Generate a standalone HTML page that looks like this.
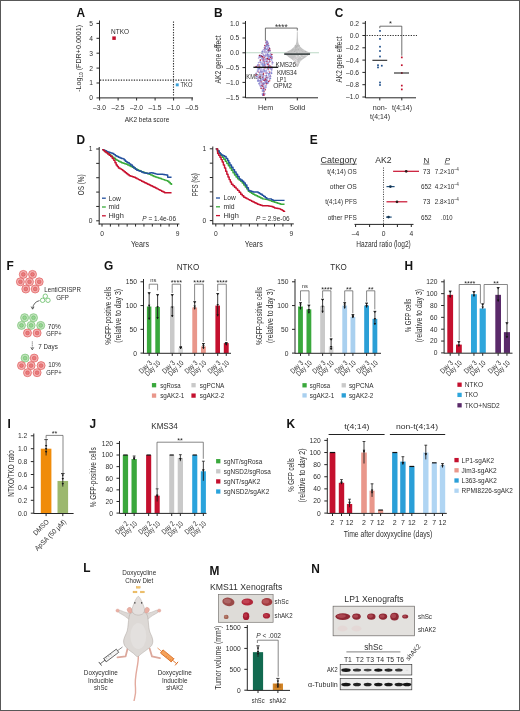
<!DOCTYPE html>
<html><head><meta charset="utf-8"><style>
html,body{margin:0;padding:0;background:#fff;overflow:hidden;}
svg{display:block;filter:blur(0.3px);}
text{font-family:"Liberation Sans", sans-serif;}
</style></head><body>
<svg width="520" height="711" viewBox="0 0 520 711" font-family="Liberation Sans, sans-serif">
<rect width="520" height="711" fill="#fff"/>
<text x="76.50" y="17.20" font-size="11.9" text-anchor="start" fill="#141414" font-weight="bold">A</text>
<line x1="99.50" y1="20.50" x2="99.50" y2="98.40" stroke="#262626" stroke-width="1.0"/>
<line x1="96.50" y1="97.90" x2="99.50" y2="97.90" stroke="#262626" stroke-width="1.0"/>
<text x="92.90" y="100.31" font-size="6.7" text-anchor="end" fill="#2e2e2e">0</text>
<line x1="96.50" y1="83.00" x2="99.50" y2="83.00" stroke="#262626" stroke-width="1.0"/>
<text x="92.90" y="85.41" font-size="6.7" text-anchor="end" fill="#2e2e2e">1</text>
<line x1="96.50" y1="68.10" x2="99.50" y2="68.10" stroke="#262626" stroke-width="1.0"/>
<text x="92.90" y="70.51" font-size="6.7" text-anchor="end" fill="#2e2e2e">2</text>
<line x1="96.50" y1="53.20" x2="99.50" y2="53.20" stroke="#262626" stroke-width="1.0"/>
<text x="92.90" y="55.61" font-size="6.7" text-anchor="end" fill="#2e2e2e">3</text>
<line x1="96.50" y1="38.30" x2="99.50" y2="38.30" stroke="#262626" stroke-width="1.0"/>
<text x="92.90" y="40.71" font-size="6.7" text-anchor="end" fill="#2e2e2e">4</text>
<line x1="96.50" y1="23.40" x2="99.50" y2="23.40" stroke="#262626" stroke-width="1.0"/>
<text x="92.90" y="25.81" font-size="6.7" text-anchor="end" fill="#2e2e2e">5</text>
<line x1="99.00" y1="97.90" x2="193.00" y2="97.90" stroke="#262626" stroke-width="1.0"/>
<line x1="99.60" y1="97.90" x2="99.60" y2="100.50" stroke="#262626" stroke-width="1.0"/>
<text x="99.60" y="110.00" font-size="6.7" text-anchor="middle" fill="#2e2e2e">–3.0</text>
<line x1="118.10" y1="97.90" x2="118.10" y2="100.50" stroke="#262626" stroke-width="1.0"/>
<text x="118.10" y="110.00" font-size="6.7" text-anchor="middle" fill="#2e2e2e">–2.5</text>
<line x1="136.60" y1="97.90" x2="136.60" y2="100.50" stroke="#262626" stroke-width="1.0"/>
<text x="136.60" y="110.00" font-size="6.7" text-anchor="middle" fill="#2e2e2e">–2.0</text>
<line x1="155.10" y1="97.90" x2="155.10" y2="100.50" stroke="#262626" stroke-width="1.0"/>
<text x="155.10" y="110.00" font-size="6.7" text-anchor="middle" fill="#2e2e2e">–1.5</text>
<line x1="173.60" y1="97.90" x2="173.60" y2="100.50" stroke="#262626" stroke-width="1.0"/>
<text x="173.60" y="110.00" font-size="6.7" text-anchor="middle" fill="#2e2e2e">–1.0</text>
<line x1="192.10" y1="97.90" x2="192.10" y2="100.50" stroke="#262626" stroke-width="1.0"/>
<text x="192.10" y="110.00" font-size="6.7" text-anchor="middle" fill="#2e2e2e">–0.5</text>
<text x="147.00" y="121.50" font-size="7.9" text-anchor="middle" fill="#2e2e2e" textLength="44.5" lengthAdjust="spacingAndGlyphs">AK2 beta score</text>
<text x="81.40" y="58.30" font-size="7.9" text-anchor="middle" fill="#2e2e2e" textLength="67" lengthAdjust="spacingAndGlyphs" transform="rotate(-90 81.40 58.30)">-Log<tspan font-size="5.2" dy="1.6">10</tspan><tspan dy="-1.6"> (FDR+0.0001)</tspan></text>
<line x1="173.50" y1="21.50" x2="173.50" y2="97.50" stroke="#333" stroke-width="1.1" stroke-dasharray="1.3,1.3"/>
<line x1="100.00" y1="80.10" x2="193.00" y2="80.10" stroke="#333" stroke-width="1.1" stroke-dasharray="1.3,1.3"/>
<rect x="112.30" y="36.40" width="3.50" height="3.50" fill="#c0102c"/>
<text x="111.00" y="34.30" font-size="6.7" text-anchor="start" fill="#2e2e2e" textLength="18" lengthAdjust="spacingAndGlyphs">NTKO</text>
<rect x="175.80" y="83.40" width="2.90" height="2.90" fill="#3aa0d8"/>
<text x="180.60" y="87.30" font-size="6.7" text-anchor="start" fill="#2e2e2e" textLength="11.8" lengthAdjust="spacingAndGlyphs">TKO</text>
<text x="214.00" y="17.20" font-size="11.9" text-anchor="start" fill="#141414" font-weight="bold">B</text>
<line x1="245.50" y1="21.00" x2="245.50" y2="98.00" stroke="#262626" stroke-width="1.0"/>
<line x1="242.50" y1="23.20" x2="245.50" y2="23.20" stroke="#262626" stroke-width="1.0"/>
<text x="239.20" y="25.61" font-size="6.7" text-anchor="end" fill="#2e2e2e">1.0</text>
<line x1="242.50" y1="38.00" x2="245.50" y2="38.00" stroke="#262626" stroke-width="1.0"/>
<text x="239.20" y="40.41" font-size="6.7" text-anchor="end" fill="#2e2e2e">0.5</text>
<line x1="242.50" y1="52.80" x2="245.50" y2="52.80" stroke="#262626" stroke-width="1.0"/>
<text x="239.20" y="55.21" font-size="6.7" text-anchor="end" fill="#2e2e2e">0.0</text>
<line x1="242.50" y1="67.60" x2="245.50" y2="67.60" stroke="#262626" stroke-width="1.0"/>
<text x="239.20" y="70.01" font-size="6.7" text-anchor="end" fill="#2e2e2e">–0.5</text>
<line x1="242.50" y1="82.40" x2="245.50" y2="82.40" stroke="#262626" stroke-width="1.0"/>
<text x="239.20" y="84.81" font-size="6.7" text-anchor="end" fill="#2e2e2e">–1.0</text>
<line x1="242.50" y1="97.20" x2="245.50" y2="97.20" stroke="#262626" stroke-width="1.0"/>
<text x="239.20" y="99.61" font-size="6.7" text-anchor="end" fill="#2e2e2e">–1.5</text>
<line x1="245.50" y1="97.80" x2="318.00" y2="97.80" stroke="#262626" stroke-width="1.0"/>
<line x1="265.60" y1="97.80" x2="265.60" y2="100.40" stroke="#262626" stroke-width="1.0"/>
<text x="265.60" y="110.10" font-size="7.2" text-anchor="middle" fill="#2e2e2e">Hem</text>
<line x1="297.30" y1="97.80" x2="297.30" y2="100.40" stroke="#262626" stroke-width="1.0"/>
<text x="297.30" y="110.10" font-size="7.2" text-anchor="middle" fill="#2e2e2e">Solid</text>
<text x="221.30" y="59.40" font-size="8.2" text-anchor="middle" fill="#2e2e2e" textLength="48" lengthAdjust="spacingAndGlyphs" transform="rotate(-90 221.30 59.40)">AK2 gene effect</text>
<line x1="246.00" y1="52.70" x2="319.00" y2="52.70" stroke="#bcd9c6" stroke-width="1.1"/>
<path d="M297.70,31.5 L297.90,38 L298.20,42 L298.90,44.5 L300.10,46.5 L301.90,48.3 L304.30,50 L307.30,51.5 L310.20,52.8 L310.20,54.3 L307.80,55.6 L305.80,57.3 L302.80,59.3 L300.50,61.2 L299.30,63.5 L298.50,65.8 L297.80,67 L296.80,67 L296.10,65.8 L295.30,63.5 L294.10,61.2 L291.80,59.3 L288.80,57.3 L286.80,55.6 L284.40,54.3 L284.40,52.8 L287.30,51.5 L290.30,50 L292.70,48.3 L294.50,46.5 L295.70,44.5 L296.40,42 L296.70,38 L296.90,31.5 Z" fill="#c4c4c4" stroke="none" stroke-width="1"/>
<circle cx="291.45" cy="51.15" r="0.6" fill="#bcbcbc"/>
<circle cx="298.72" cy="45.92" r="0.6" fill="#d2d2d2"/>
<circle cx="288.55" cy="51.95" r="0.6" fill="#bcbcbc"/>
<circle cx="293.05" cy="49.08" r="0.6" fill="#b0b0b0"/>
<circle cx="295.31" cy="46.33" r="0.6" fill="#b0b0b0"/>
<circle cx="297.60" cy="46.12" r="0.6" fill="#d2d2d2"/>
<circle cx="298.63" cy="56.98" r="0.6" fill="#e2e2e2"/>
<circle cx="295.43" cy="55.96" r="0.6" fill="#d0d0d0"/>
<circle cx="298.87" cy="45.89" r="0.6" fill="#b0b0b0"/>
<circle cx="298.24" cy="52.96" r="0.6" fill="#bcbcbc"/>
<circle cx="302.26" cy="50.86" r="0.6" fill="#d2d2d2"/>
<circle cx="297.72" cy="46.96" r="0.6" fill="#d2d2d2"/>
<circle cx="298.27" cy="52.08" r="0.6" fill="#d2d2d2"/>
<circle cx="299.52" cy="55.72" r="0.6" fill="#ececec"/>
<circle cx="296.31" cy="57.93" r="0.6" fill="#e4d4dc"/>
<circle cx="307.13" cy="53.85" r="0.6" fill="#b0b0b0"/>
<circle cx="301.75" cy="50.70" r="0.6" fill="#bcbcbc"/>
<circle cx="293.63" cy="59.82" r="0.6" fill="#e4d4dc"/>
<circle cx="305.16" cy="54.98" r="0.6" fill="#ececec"/>
<circle cx="304.16" cy="50.47" r="0.6" fill="#d2d2d2"/>
<circle cx="290.00" cy="54.73" r="0.6" fill="#e4d4dc"/>
<circle cx="297.22" cy="47.89" r="0.6" fill="#d2d2d2"/>
<circle cx="295.69" cy="63.28" r="0.6" fill="#e4d4dc"/>
<circle cx="294.62" cy="51.46" r="0.6" fill="#b0b0b0"/>
<circle cx="296.51" cy="56.02" r="0.6" fill="#e2e2e2"/>
<circle cx="297.19" cy="62.95" r="0.6" fill="#e2e2e2"/>
<circle cx="298.24" cy="46.15" r="0.6" fill="#bcbcbc"/>
<circle cx="300.58" cy="55.98" r="0.6" fill="#ececec"/>
<circle cx="295.69" cy="50.41" r="0.6" fill="#bcbcbc"/>
<circle cx="305.40" cy="51.59" r="0.6" fill="#b0b0b0"/>
<circle cx="294.20" cy="48.19" r="0.6" fill="#d2d2d2"/>
<circle cx="295.08" cy="49.15" r="0.6" fill="#bcbcbc"/>
<circle cx="296.01" cy="49.70" r="0.6" fill="#b0b0b0"/>
<circle cx="297.04" cy="46.53" r="0.6" fill="#bcbcbc"/>
<circle cx="292.36" cy="50.28" r="0.6" fill="#b0b0b0"/>
<circle cx="296.07" cy="61.42" r="0.6" fill="#ececec"/>
<circle cx="297.93" cy="63.74" r="0.6" fill="#ececec"/>
<circle cx="295.94" cy="63.20" r="0.6" fill="#d0d0d0"/>
<circle cx="298.49" cy="47.87" r="0.6" fill="#d2d2d2"/>
<circle cx="299.37" cy="54.21" r="0.6" fill="#b0b0b0"/>
<circle cx="292.38" cy="50.36" r="0.6" fill="#bcbcbc"/>
<circle cx="298.63" cy="52.02" r="0.6" fill="#d2d2d2"/>
<circle cx="297.50" cy="58.12" r="0.6" fill="#e2e2e2"/>
<circle cx="305.91" cy="53.68" r="0.6" fill="#bcbcbc"/>
<circle cx="296.44" cy="60.16" r="0.6" fill="#ececec"/>
<circle cx="296.89" cy="52.49" r="0.6" fill="#b0b0b0"/>
<circle cx="295.27" cy="46.18" r="0.6" fill="#d2d2d2"/>
<circle cx="288.24" cy="53.37" r="0.6" fill="#bcbcbc"/>
<circle cx="295.05" cy="46.00" r="0.6" fill="#d2d2d2"/>
<circle cx="306.39" cy="55.20" r="0.6" fill="#e2e2e2"/>
<circle cx="295.88" cy="46.34" r="0.6" fill="#b0b0b0"/>
<circle cx="295.46" cy="47.82" r="0.6" fill="#b0b0b0"/>
<circle cx="296.86" cy="56.44" r="0.6" fill="#e2e2e2"/>
<circle cx="300.22" cy="61.13" r="0.6" fill="#ececec"/>
<circle cx="292.93" cy="54.13" r="0.6" fill="#d2d2d2"/>
<circle cx="296.38" cy="46.94" r="0.6" fill="#b0b0b0"/>
<circle cx="301.76" cy="54.09" r="0.6" fill="#bcbcbc"/>
<circle cx="299.06" cy="45.44" r="0.6" fill="#bcbcbc"/>
<circle cx="301.01" cy="51.87" r="0.6" fill="#d2d2d2"/>
<circle cx="295.35" cy="59.40" r="0.6" fill="#e2e2e2"/>
<circle cx="294.24" cy="58.23" r="0.6" fill="#e4d4dc"/>
<circle cx="296.61" cy="62.26" r="0.6" fill="#d0d0d0"/>
<circle cx="303.02" cy="55.12" r="0.6" fill="#e4d4dc"/>
<circle cx="299.08" cy="57.09" r="0.6" fill="#d0d0d0"/>
<circle cx="299.75" cy="60.32" r="0.6" fill="#d0d0d0"/>
<circle cx="297.23" cy="48.80" r="0.6" fill="#bcbcbc"/>
<circle cx="295.40" cy="45.55" r="0.6" fill="#b0b0b0"/>
<circle cx="290.19" cy="53.97" r="0.6" fill="#bcbcbc"/>
<circle cx="297.09" cy="63.17" r="0.6" fill="#e4d4dc"/>
<circle cx="296.77" cy="63.15" r="0.6" fill="#d0d0d0"/>
<circle cx="297.13" cy="46.94" r="0.6" fill="#b0b0b0"/>
<circle cx="298.51" cy="48.88" r="0.6" fill="#bcbcbc"/>
<circle cx="297.17" cy="60.97" r="0.6" fill="#e4d4dc"/>
<circle cx="294.00" cy="60.19" r="0.6" fill="#e2e2e2"/>
<circle cx="298.64" cy="62.29" r="0.6" fill="#d0d0d0"/>
<circle cx="289.84" cy="54.08" r="0.6" fill="#bcbcbc"/>
<circle cx="302.52" cy="51.32" r="0.6" fill="#bcbcbc"/>
<circle cx="295.12" cy="52.52" r="0.6" fill="#d2d2d2"/>
<circle cx="293.56" cy="58.77" r="0.6" fill="#d0d0d0"/>
<circle cx="297.66" cy="45.52" r="0.6" fill="#b0b0b0"/>
<circle cx="294.59" cy="60.32" r="0.6" fill="#ececec"/>
<circle cx="295.09" cy="57.49" r="0.6" fill="#d0d0d0"/>
<circle cx="298.46" cy="45.41" r="0.6" fill="#bcbcbc"/>
<circle cx="297.70" cy="57.34" r="0.6" fill="#d0d0d0"/>
<circle cx="305.93" cy="53.24" r="0.6" fill="#d2d2d2"/>
<circle cx="296.15" cy="45.53" r="0.6" fill="#bcbcbc"/>
<circle cx="298.29" cy="49.57" r="0.6" fill="#b0b0b0"/>
<circle cx="303.90" cy="55.34" r="0.6" fill="#e2e2e2"/>
<circle cx="296.61" cy="62.29" r="0.6" fill="#ececec"/>
<circle cx="301.88" cy="57.59" r="0.6" fill="#ececec"/>
<line x1="284.20" y1="54.10" x2="310.00" y2="54.10" stroke="#1b2626" stroke-width="1.3"/>
<text x="246.30" y="79.20" font-size="6.8" text-anchor="start" fill="#2e2e2e" textLength="18.5" lengthAdjust="spacingAndGlyphs">KMS11</text>
<circle cx="260.88" cy="85.91" r="0.8" fill="#b01c40"/>
<circle cx="264.03" cy="88.39" r="0.8" fill="#7a80cc"/>
<circle cx="268.20" cy="50.36" r="0.8" fill="#b8a4d8"/>
<circle cx="263.25" cy="78.05" r="0.8" fill="#9aa4e2"/>
<circle cx="263.61" cy="77.40" r="0.8" fill="#a49ad8"/>
<circle cx="264.73" cy="65.07" r="0.8" fill="#9a84c8"/>
<circle cx="264.20" cy="65.56" r="0.8" fill="#9a84c8"/>
<circle cx="262.34" cy="91.11" r="0.8" fill="#7c84cc"/>
<circle cx="264.37" cy="47.60" r="0.8" fill="#a49ad8"/>
<circle cx="269.43" cy="58.55" r="0.8" fill="#b8a4d8"/>
<circle cx="269.64" cy="48.76" r="0.8" fill="#a49ad8"/>
<circle cx="272.74" cy="62.63" r="0.8" fill="#7a80cc"/>
<circle cx="262.18" cy="79.35" r="0.8" fill="#b8a4d8"/>
<circle cx="258.52" cy="58.30" r="0.8" fill="#c4b4dc"/>
<circle cx="260.68" cy="70.01" r="0.8" fill="#a49ad8"/>
<circle cx="264.49" cy="94.49" r="0.8" fill="#a0183a"/>
<circle cx="261.48" cy="55.77" r="0.8" fill="#7c84cc"/>
<circle cx="266.12" cy="87.13" r="0.8" fill="#c4b4dc"/>
<circle cx="268.24" cy="56.67" r="0.8" fill="#a49ad8"/>
<circle cx="262.14" cy="57.57" r="0.8" fill="#b0b2e6"/>
<circle cx="266.84" cy="44.62" r="0.8" fill="#7c84cc"/>
<circle cx="265.78" cy="58.75" r="0.8" fill="#a49ad8"/>
<circle cx="271.73" cy="60.25" r="0.8" fill="#b0b2e6"/>
<circle cx="261.17" cy="56.74" r="0.8" fill="#9aa4e2"/>
<circle cx="265.85" cy="55.53" r="0.8" fill="#c4b4dc"/>
<circle cx="267.84" cy="54.34" r="0.8" fill="#c4b4dc"/>
<circle cx="271.65" cy="70.64" r="0.8" fill="#b0b2e6"/>
<circle cx="266.36" cy="79.14" r="0.8" fill="#7c84cc"/>
<circle cx="264.16" cy="94.73" r="0.8" fill="#a0183a"/>
<circle cx="261.61" cy="74.29" r="0.8" fill="#9a84c8"/>
<circle cx="256.29" cy="73.51" r="0.8" fill="#a0183a"/>
<circle cx="268.33" cy="82.89" r="0.8" fill="#b0b2e6"/>
<circle cx="266.37" cy="42.87" r="0.8" fill="#a0183a"/>
<circle cx="265.08" cy="61.72" r="0.8" fill="#9aa4e2"/>
<circle cx="265.40" cy="45.93" r="0.8" fill="#7c84cc"/>
<circle cx="266.37" cy="61.75" r="0.8" fill="#7a80cc"/>
<circle cx="269.23" cy="76.70" r="0.8" fill="#b8a4d8"/>
<circle cx="260.64" cy="80.13" r="0.8" fill="#7a80cc"/>
<circle cx="268.01" cy="43.38" r="0.8" fill="#7a80cc"/>
<circle cx="263.78" cy="90.41" r="0.8" fill="#9aa4e2"/>
<circle cx="266.30" cy="85.87" r="0.8" fill="#b0b2e6"/>
<circle cx="271.03" cy="73.48" r="0.8" fill="#c4b4dc"/>
<circle cx="265.94" cy="71.33" r="0.8" fill="#c4b4dc"/>
<circle cx="260.21" cy="55.32" r="0.8" fill="#a49ad8"/>
<circle cx="259.71" cy="76.37" r="0.8" fill="#a0183a"/>
<circle cx="262.85" cy="53.75" r="0.8" fill="#c4b4dc"/>
<circle cx="267.20" cy="68.89" r="0.8" fill="#b0b2e6"/>
<circle cx="268.81" cy="62.36" r="0.8" fill="#7a80cc"/>
<circle cx="267.66" cy="62.79" r="0.8" fill="#c4b4dc"/>
<circle cx="265.13" cy="56.79" r="0.8" fill="#a49ad8"/>
<circle cx="263.16" cy="94.94" r="0.8" fill="#d06080"/>
<circle cx="267.52" cy="41.95" r="0.8" fill="#c4b4dc"/>
<circle cx="268.52" cy="81.58" r="0.8" fill="#b01c40"/>
<circle cx="269.53" cy="48.70" r="0.8" fill="#a0183a"/>
<circle cx="262.27" cy="89.16" r="0.8" fill="#c4b4dc"/>
<circle cx="265.42" cy="82.55" r="0.8" fill="#7a80cc"/>
<circle cx="262.98" cy="58.51" r="0.8" fill="#b8a4d8"/>
<circle cx="265.92" cy="81.87" r="0.8" fill="#9a84c8"/>
<circle cx="270.66" cy="66.31" r="0.8" fill="#d06080"/>
<circle cx="261.05" cy="82.03" r="0.8" fill="#a0183a"/>
<circle cx="262.87" cy="83.16" r="0.8" fill="#b8a4d8"/>
<circle cx="259.07" cy="83.63" r="0.8" fill="#7c84cc"/>
<circle cx="263.70" cy="90.60" r="0.8" fill="#9aa4e2"/>
<circle cx="263.93" cy="91.69" r="0.8" fill="#a0183a"/>
<circle cx="265.19" cy="67.37" r="0.8" fill="#d06080"/>
<circle cx="270.77" cy="76.43" r="0.8" fill="#b0b2e6"/>
<circle cx="264.07" cy="57.34" r="0.8" fill="#c02a50"/>
<circle cx="268.16" cy="45.08" r="0.8" fill="#c4b4dc"/>
<circle cx="263.29" cy="90.21" r="0.8" fill="#c02a50"/>
<circle cx="260.96" cy="71.12" r="0.8" fill="#b0b2e6"/>
<circle cx="263.10" cy="89.18" r="0.8" fill="#b0b2e6"/>
<circle cx="262.54" cy="56.80" r="0.8" fill="#7a80cc"/>
<circle cx="267.65" cy="78.29" r="0.8" fill="#a49ad8"/>
<circle cx="263.55" cy="66.59" r="0.8" fill="#9aa4e2"/>
<circle cx="268.22" cy="47.91" r="0.8" fill="#c4b4dc"/>
<circle cx="267.19" cy="81.88" r="0.8" fill="#c4b4dc"/>
<circle cx="265.63" cy="59.48" r="0.8" fill="#c4b4dc"/>
<circle cx="264.93" cy="45.62" r="0.8" fill="#b01c40"/>
<circle cx="261.78" cy="58.71" r="0.8" fill="#a49ad8"/>
<circle cx="260.17" cy="82.36" r="0.8" fill="#9aa4e2"/>
<circle cx="271.82" cy="68.36" r="0.8" fill="#b0b2e6"/>
<circle cx="272.25" cy="62.16" r="0.8" fill="#9a84c8"/>
<circle cx="265.37" cy="80.66" r="0.8" fill="#c02a50"/>
<circle cx="259.45" cy="77.24" r="0.8" fill="#a0183a"/>
<circle cx="256.23" cy="66.49" r="0.8" fill="#a49ad8"/>
<circle cx="264.29" cy="52.14" r="0.8" fill="#b0b2e6"/>
<circle cx="258.60" cy="80.79" r="0.8" fill="#7a80cc"/>
<circle cx="265.31" cy="89.68" r="0.8" fill="#c02a50"/>
<circle cx="267.04" cy="55.69" r="0.8" fill="#9aa4e2"/>
<circle cx="268.17" cy="51.00" r="0.8" fill="#a49ad8"/>
<circle cx="263.21" cy="95.17" r="0.8" fill="#d06080"/>
<circle cx="266.74" cy="42.73" r="0.8" fill="#b8a4d8"/>
<circle cx="259.68" cy="57.27" r="0.8" fill="#a49ad8"/>
<circle cx="261.91" cy="71.47" r="0.8" fill="#9a84c8"/>
<circle cx="260.18" cy="85.64" r="0.8" fill="#b8a4d8"/>
<circle cx="261.10" cy="70.41" r="0.8" fill="#c4b4dc"/>
<circle cx="267.65" cy="42.64" r="0.8" fill="#9aa4e2"/>
<circle cx="269.78" cy="61.39" r="0.8" fill="#c02a50"/>
<circle cx="261.62" cy="81.58" r="0.8" fill="#9aa4e2"/>
<circle cx="263.44" cy="55.24" r="0.8" fill="#9aa4e2"/>
<circle cx="267.53" cy="80.18" r="0.8" fill="#a49ad8"/>
<circle cx="271.72" cy="68.78" r="0.8" fill="#7c84cc"/>
<circle cx="266.37" cy="83.89" r="0.8" fill="#d06080"/>
<circle cx="268.39" cy="50.93" r="0.8" fill="#7a80cc"/>
<circle cx="262.44" cy="64.27" r="0.8" fill="#a49ad8"/>
<circle cx="263.91" cy="59.64" r="0.8" fill="#c4b4dc"/>
<circle cx="267.19" cy="83.43" r="0.8" fill="#9a84c8"/>
<circle cx="272.49" cy="67.21" r="0.8" fill="#7a80cc"/>
<circle cx="267.39" cy="53.72" r="0.8" fill="#a49ad8"/>
<circle cx="261.12" cy="63.10" r="0.8" fill="#9a84c8"/>
<circle cx="259.52" cy="62.11" r="0.8" fill="#b0b2e6"/>
<circle cx="263.57" cy="83.78" r="0.8" fill="#a49ad8"/>
<circle cx="257.44" cy="76.48" r="0.8" fill="#b0b2e6"/>
<circle cx="260.58" cy="86.64" r="0.8" fill="#a49ad8"/>
<circle cx="267.93" cy="43.74" r="0.8" fill="#b01c40"/>
<circle cx="264.31" cy="61.21" r="0.8" fill="#9aa4e2"/>
<circle cx="267.41" cy="46.74" r="0.8" fill="#b8a4d8"/>
<circle cx="259.34" cy="84.00" r="0.8" fill="#b0b2e6"/>
<circle cx="262.79" cy="85.24" r="0.8" fill="#9a84c8"/>
<circle cx="263.84" cy="69.37" r="0.8" fill="#7c84cc"/>
<circle cx="266.49" cy="70.49" r="0.8" fill="#9a84c8"/>
<circle cx="272.21" cy="63.92" r="0.8" fill="#b8a4d8"/>
<circle cx="267.98" cy="77.23" r="0.8" fill="#7c84cc"/>
<circle cx="270.99" cy="55.17" r="0.8" fill="#a49ad8"/>
<circle cx="264.24" cy="63.06" r="0.8" fill="#b01c40"/>
<circle cx="262.03" cy="78.39" r="0.8" fill="#b8a4d8"/>
<circle cx="258.95" cy="65.09" r="0.8" fill="#b01c40"/>
<circle cx="268.32" cy="46.91" r="0.8" fill="#b0b2e6"/>
<circle cx="259.13" cy="57.38" r="0.8" fill="#b8a4d8"/>
<circle cx="266.67" cy="43.90" r="0.8" fill="#7a80cc"/>
<circle cx="265.39" cy="75.77" r="0.8" fill="#b0b2e6"/>
<circle cx="263.53" cy="61.33" r="0.8" fill="#7c84cc"/>
<circle cx="266.64" cy="83.15" r="0.8" fill="#b01c40"/>
<circle cx="263.74" cy="66.31" r="0.8" fill="#9a84c8"/>
<circle cx="263.22" cy="62.23" r="0.8" fill="#c4b4dc"/>
<circle cx="263.17" cy="83.60" r="0.8" fill="#c4b4dc"/>
<circle cx="262.84" cy="86.42" r="0.8" fill="#a0183a"/>
<circle cx="264.47" cy="67.82" r="0.8" fill="#c02a50"/>
<circle cx="268.09" cy="45.47" r="0.8" fill="#9aa4e2"/>
<circle cx="265.24" cy="81.84" r="0.8" fill="#9aa4e2"/>
<circle cx="264.77" cy="87.54" r="0.8" fill="#b0b2e6"/>
<circle cx="265.39" cy="48.15" r="0.8" fill="#7a80cc"/>
<circle cx="259.51" cy="78.26" r="0.8" fill="#9a84c8"/>
<circle cx="264.85" cy="49.62" r="0.8" fill="#7a80cc"/>
<circle cx="265.61" cy="54.80" r="0.8" fill="#b0b2e6"/>
<circle cx="260.09" cy="60.28" r="0.8" fill="#b8a4d8"/>
<circle cx="257.89" cy="77.76" r="0.8" fill="#b8a4d8"/>
<circle cx="263.56" cy="93.46" r="0.8" fill="#a49ad8"/>
<circle cx="270.32" cy="54.69" r="0.8" fill="#b8a4d8"/>
<circle cx="266.81" cy="55.38" r="0.8" fill="#a49ad8"/>
<circle cx="256.64" cy="76.56" r="0.8" fill="#9a84c8"/>
<circle cx="270.77" cy="57.84" r="0.8" fill="#b8a4d8"/>
<circle cx="260.02" cy="80.80" r="0.8" fill="#7c84cc"/>
<circle cx="265.51" cy="56.39" r="0.8" fill="#9aa4e2"/>
<circle cx="258.00" cy="65.29" r="0.8" fill="#b0b2e6"/>
<circle cx="263.42" cy="58.88" r="0.8" fill="#7a80cc"/>
<circle cx="265.07" cy="48.32" r="0.8" fill="#b01c40"/>
<circle cx="259.83" cy="74.30" r="0.8" fill="#9aa4e2"/>
<circle cx="268.19" cy="44.05" r="0.8" fill="#c4b4dc"/>
<circle cx="263.48" cy="73.68" r="0.8" fill="#b01c40"/>
<circle cx="266.76" cy="43.39" r="0.8" fill="#9aa4e2"/>
<circle cx="266.24" cy="72.77" r="0.8" fill="#d06080"/>
<circle cx="266.29" cy="51.83" r="0.8" fill="#7a80cc"/>
<circle cx="271.64" cy="73.15" r="0.8" fill="#c4b4dc"/>
<circle cx="266.85" cy="79.49" r="0.8" fill="#c4b4dc"/>
<circle cx="264.42" cy="50.52" r="0.8" fill="#a49ad8"/>
<circle cx="268.21" cy="59.22" r="0.8" fill="#9aa4e2"/>
<circle cx="264.95" cy="55.44" r="0.8" fill="#9a84c8"/>
<circle cx="271.10" cy="57.05" r="0.8" fill="#b01c40"/>
<circle cx="269.10" cy="50.22" r="0.8" fill="#7a80cc"/>
<circle cx="261.30" cy="80.52" r="0.8" fill="#c4b4dc"/>
<circle cx="256.22" cy="66.64" r="0.8" fill="#c02a50"/>
<circle cx="266.99" cy="61.15" r="0.8" fill="#c02a50"/>
<circle cx="271.62" cy="58.09" r="0.8" fill="#7a80cc"/>
<circle cx="267.46" cy="59.01" r="0.8" fill="#b01c40"/>
<circle cx="261.57" cy="72.12" r="0.8" fill="#a49ad8"/>
<circle cx="264.50" cy="88.77" r="0.8" fill="#b0b2e6"/>
<circle cx="270.45" cy="56.00" r="0.8" fill="#a49ad8"/>
<circle cx="261.97" cy="85.80" r="0.8" fill="#b01c40"/>
<circle cx="261.65" cy="84.00" r="0.8" fill="#9a84c8"/>
<circle cx="268.34" cy="63.20" r="0.8" fill="#b8a4d8"/>
<circle cx="263.25" cy="82.77" r="0.8" fill="#9aa4e2"/>
<circle cx="257.45" cy="70.04" r="0.8" fill="#9aa4e2"/>
<circle cx="258.02" cy="80.00" r="0.8" fill="#7a80cc"/>
<circle cx="261.15" cy="64.68" r="0.8" fill="#9aa4e2"/>
<circle cx="266.99" cy="41.24" r="0.8" fill="#7a80cc"/>
<circle cx="264.73" cy="93.52" r="0.8" fill="#7a80cc"/>
<circle cx="263.47" cy="75.28" r="0.8" fill="#b01c40"/>
<circle cx="265.34" cy="67.62" r="0.8" fill="#a0183a"/>
<circle cx="263.61" cy="60.31" r="0.8" fill="#a49ad8"/>
<circle cx="262.67" cy="63.92" r="0.8" fill="#7c84cc"/>
<circle cx="262.98" cy="89.94" r="0.8" fill="#b0b2e6"/>
<circle cx="266.84" cy="72.23" r="0.8" fill="#9aa4e2"/>
<circle cx="270.39" cy="59.50" r="0.8" fill="#b8a4d8"/>
<circle cx="268.56" cy="50.21" r="0.8" fill="#7a80cc"/>
<circle cx="268.23" cy="59.14" r="0.8" fill="#9a84c8"/>
<circle cx="270.39" cy="57.37" r="0.8" fill="#c02a50"/>
<circle cx="263.75" cy="93.93" r="0.8" fill="#b0b2e6"/>
<circle cx="265.74" cy="83.28" r="0.8" fill="#b01c40"/>
<circle cx="262.40" cy="59.30" r="0.8" fill="#9a84c8"/>
<circle cx="262.52" cy="51.65" r="0.8" fill="#7c84cc"/>
<circle cx="262.64" cy="79.78" r="0.8" fill="#9a84c8"/>
<circle cx="262.20" cy="72.51" r="0.8" fill="#7c84cc"/>
<circle cx="265.54" cy="79.07" r="0.8" fill="#b0b2e6"/>
<circle cx="262.83" cy="77.90" r="0.8" fill="#a49ad8"/>
<circle cx="267.99" cy="66.60" r="0.8" fill="#d06080"/>
<circle cx="263.75" cy="79.90" r="0.8" fill="#7a80cc"/>
<circle cx="270.12" cy="55.31" r="0.8" fill="#a49ad8"/>
<circle cx="266.19" cy="43.07" r="0.8" fill="#b0b2e6"/>
<circle cx="264.51" cy="71.66" r="0.8" fill="#9aa4e2"/>
<circle cx="263.84" cy="75.71" r="0.8" fill="#c4b4dc"/>
<circle cx="265.04" cy="52.41" r="0.8" fill="#a49ad8"/>
<circle cx="265.25" cy="80.59" r="0.8" fill="#7c84cc"/>
<circle cx="263.06" cy="67.14" r="0.8" fill="#b8a4d8"/>
<circle cx="263.15" cy="63.80" r="0.8" fill="#b0b2e6"/>
<circle cx="263.43" cy="94.99" r="0.8" fill="#b01c40"/>
<circle cx="263.25" cy="84.96" r="0.8" fill="#b0b2e6"/>
<circle cx="268.83" cy="74.32" r="0.8" fill="#7c84cc"/>
<circle cx="257.81" cy="70.90" r="0.8" fill="#b8a4d8"/>
<circle cx="266.46" cy="75.42" r="0.8" fill="#7a80cc"/>
<circle cx="269.35" cy="67.15" r="0.8" fill="#9a84c8"/>
<circle cx="267.21" cy="58.39" r="0.8" fill="#a0183a"/>
<circle cx="257.57" cy="66.17" r="0.8" fill="#b8a4d8"/>
<circle cx="265.35" cy="79.11" r="0.8" fill="#b01c40"/>
<circle cx="266.58" cy="63.50" r="0.8" fill="#b0b2e6"/>
<circle cx="268.82" cy="51.08" r="0.8" fill="#7c84cc"/>
<circle cx="264.85" cy="80.84" r="0.8" fill="#9a84c8"/>
<circle cx="266.53" cy="51.72" r="0.8" fill="#c4b4dc"/>
<circle cx="264.26" cy="58.43" r="0.8" fill="#c4b4dc"/>
<circle cx="258.34" cy="68.55" r="0.8" fill="#c4b4dc"/>
<circle cx="268.22" cy="49.94" r="0.8" fill="#a0183a"/>
<circle cx="267.23" cy="66.41" r="0.8" fill="#b8a4d8"/>
<circle cx="267.65" cy="64.12" r="0.8" fill="#a0183a"/>
<circle cx="266.67" cy="72.68" r="0.8" fill="#b8a4d8"/>
<circle cx="268.39" cy="69.04" r="0.8" fill="#c02a50"/>
<circle cx="261.34" cy="80.00" r="0.8" fill="#b8a4d8"/>
<circle cx="266.10" cy="59.53" r="0.8" fill="#9a84c8"/>
<circle cx="265.58" cy="64.63" r="0.8" fill="#9a84c8"/>
<circle cx="262.69" cy="60.29" r="0.8" fill="#b8a4d8"/>
<circle cx="264.21" cy="93.94" r="0.8" fill="#b8a4d8"/>
<circle cx="259.43" cy="83.21" r="0.8" fill="#7c84cc"/>
<circle cx="264.10" cy="80.24" r="0.8" fill="#a0183a"/>
<circle cx="263.15" cy="78.84" r="0.8" fill="#9aa4e2"/>
<circle cx="264.52" cy="83.84" r="0.8" fill="#a49ad8"/>
<circle cx="265.69" cy="52.54" r="0.8" fill="#a49ad8"/>
<circle cx="262.33" cy="77.03" r="0.8" fill="#b01c40"/>
<circle cx="269.52" cy="61.03" r="0.8" fill="#9a84c8"/>
<circle cx="259.20" cy="55.99" r="0.8" fill="#9aa4e2"/>
<circle cx="269.65" cy="68.03" r="0.8" fill="#7c84cc"/>
<circle cx="262.90" cy="72.24" r="0.8" fill="#d06080"/>
<circle cx="266.22" cy="73.25" r="0.8" fill="#d06080"/>
<circle cx="270.73" cy="68.69" r="0.8" fill="#7c84cc"/>
<circle cx="266.56" cy="41.26" r="0.8" fill="#a49ad8"/>
<circle cx="260.49" cy="68.70" r="0.8" fill="#c4b4dc"/>
<circle cx="269.44" cy="56.45" r="0.8" fill="#7a80cc"/>
<circle cx="267.03" cy="73.23" r="0.8" fill="#9a84c8"/>
<circle cx="259.78" cy="55.93" r="0.8" fill="#a49ad8"/>
<circle cx="271.17" cy="72.40" r="0.8" fill="#9aa4e2"/>
<circle cx="268.73" cy="58.17" r="0.8" fill="#7a80cc"/>
<circle cx="265.67" cy="48.87" r="0.8" fill="#7c84cc"/>
<circle cx="263.63" cy="66.90" r="0.8" fill="#b8a4d8"/>
<circle cx="265.50" cy="83.24" r="0.8" fill="#b8a4d8"/>
<circle cx="261.11" cy="88.22" r="0.8" fill="#a0183a"/>
<circle cx="259.60" cy="72.75" r="0.8" fill="#7c84cc"/>
<circle cx="268.55" cy="73.68" r="0.8" fill="#9aa4e2"/>
<circle cx="271.54" cy="59.56" r="0.8" fill="#9aa4e2"/>
<circle cx="269.66" cy="80.83" r="0.8" fill="#d06080"/>
<circle cx="268.77" cy="71.06" r="0.8" fill="#b0b2e6"/>
<circle cx="267.94" cy="66.47" r="0.8" fill="#9aa4e2"/>
<circle cx="259.78" cy="83.99" r="0.8" fill="#a49ad8"/>
<circle cx="270.59" cy="53.64" r="0.8" fill="#b8a4d8"/>
<circle cx="259.24" cy="66.88" r="0.8" fill="#c02a50"/>
<circle cx="261.53" cy="71.76" r="0.8" fill="#7a80cc"/>
<circle cx="265.83" cy="54.37" r="0.8" fill="#b8a4d8"/>
<circle cx="258.06" cy="75.36" r="0.8" fill="#b8a4d8"/>
<circle cx="260.14" cy="56.23" r="0.8" fill="#c4b4dc"/>
<circle cx="261.00" cy="81.84" r="0.8" fill="#d06080"/>
<circle cx="268.35" cy="82.66" r="0.8" fill="#9aa4e2"/>
<circle cx="263.51" cy="59.40" r="0.8" fill="#b01c40"/>
<circle cx="263.21" cy="71.27" r="0.8" fill="#a49ad8"/>
<circle cx="265.67" cy="87.86" r="0.8" fill="#a49ad8"/>
<circle cx="267.63" cy="54.97" r="0.8" fill="#7c84cc"/>
<circle cx="265.21" cy="50.92" r="0.8" fill="#b0b2e6"/>
<circle cx="269.92" cy="50.35" r="0.8" fill="#b01c40"/>
<circle cx="266.55" cy="77.80" r="0.8" fill="#c4b4dc"/>
<circle cx="270.10" cy="76.89" r="0.8" fill="#9a84c8"/>
<circle cx="266.14" cy="73.03" r="0.8" fill="#b8a4d8"/>
<circle cx="258.70" cy="68.96" r="0.8" fill="#7a80cc"/>
<circle cx="263.37" cy="90.65" r="0.8" fill="#9aa4e2"/>
<circle cx="263.46" cy="49.52" r="0.8" fill="#b8a4d8"/>
<circle cx="257.61" cy="67.97" r="0.8" fill="#9aa4e2"/>
<circle cx="260.95" cy="75.12" r="0.8" fill="#c4b4dc"/>
<circle cx="268.62" cy="64.63" r="0.8" fill="#d06080"/>
<circle cx="260.43" cy="80.25" r="0.8" fill="#7a80cc"/>
<circle cx="266.61" cy="42.38" r="0.8" fill="#9a84c8"/>
<circle cx="258.84" cy="81.19" r="0.8" fill="#9aa4e2"/>
<circle cx="270.25" cy="75.26" r="0.8" fill="#9a84c8"/>
<circle cx="269.29" cy="47.47" r="0.8" fill="#9a84c8"/>
<circle cx="262.83" cy="95.20" r="0.8" fill="#7a80cc"/>
<circle cx="266.36" cy="44.12" r="0.8" fill="#9aa4e2"/>
<circle cx="264.82" cy="65.01" r="0.8" fill="#9a84c8"/>
<circle cx="269.95" cy="51.09" r="0.8" fill="#7a80cc"/>
<circle cx="266.63" cy="77.34" r="0.8" fill="#b01c40"/>
<circle cx="265.11" cy="86.01" r="0.8" fill="#7a80cc"/>
<circle cx="268.27" cy="52.19" r="0.8" fill="#9a84c8"/>
<circle cx="262.09" cy="76.25" r="0.8" fill="#9aa4e2"/>
<circle cx="267.11" cy="63.17" r="0.8" fill="#a49ad8"/>
<circle cx="266.96" cy="41.84" r="0.8" fill="#9a84c8"/>
<circle cx="271.87" cy="54.48" r="0.8" fill="#a0183a"/>
<circle cx="261.44" cy="72.22" r="0.8" fill="#a49ad8"/>
<circle cx="268.47" cy="47.56" r="0.8" fill="#b8a4d8"/>
<circle cx="264.25" cy="83.31" r="0.8" fill="#9a84c8"/>
<circle cx="263.47" cy="88.39" r="0.8" fill="#7a80cc"/>
<circle cx="266.52" cy="42.12" r="0.8" fill="#b01c40"/>
<circle cx="271.99" cy="57.94" r="0.8" fill="#c02a50"/>
<circle cx="267.58" cy="55.20" r="0.8" fill="#b0b2e6"/>
<circle cx="266.36" cy="80.22" r="0.8" fill="#b01c40"/>
<circle cx="268.86" cy="66.24" r="0.8" fill="#b01c40"/>
<circle cx="269.64" cy="72.16" r="0.8" fill="#d06080"/>
<circle cx="269.60" cy="78.95" r="0.8" fill="#7c84cc"/>
<circle cx="256.15" cy="73.42" r="0.8" fill="#9aa4e2"/>
<circle cx="262.41" cy="61.97" r="0.8" fill="#b8a4d8"/>
<circle cx="260.04" cy="85.26" r="0.8" fill="#b8a4d8"/>
<circle cx="267.53" cy="54.54" r="0.8" fill="#7a80cc"/>
<circle cx="267.02" cy="44.76" r="0.8" fill="#c02a50"/>
<circle cx="263.08" cy="83.93" r="0.8" fill="#b01c40"/>
<circle cx="266.47" cy="42.87" r="0.8" fill="#9a84c8"/>
<circle cx="256.10" cy="75.11" r="0.8" fill="#b01c40"/>
<circle cx="271.55" cy="69.25" r="0.8" fill="#9a84c8"/>
<circle cx="271.99" cy="56.75" r="0.8" fill="#9a84c8"/>
<circle cx="268.72" cy="45.59" r="0.8" fill="#7a80cc"/>
<circle cx="263.86" cy="89.07" r="0.8" fill="#a49ad8"/>
<circle cx="267.48" cy="68.17" r="0.8" fill="#7c84cc"/>
<circle cx="265.83" cy="51.92" r="0.8" fill="#c4b4dc"/>
<circle cx="260.62" cy="62.03" r="0.8" fill="#7c84cc"/>
<circle cx="259.64" cy="81.80" r="0.8" fill="#b8a4d8"/>
<circle cx="260.39" cy="71.23" r="0.8" fill="#9a84c8"/>
<circle cx="265.65" cy="70.98" r="0.8" fill="#9aa4e2"/>
<circle cx="261.75" cy="69.07" r="0.8" fill="#b0b2e6"/>
<circle cx="264.35" cy="94.72" r="0.8" fill="#b8a4d8"/>
<circle cx="260.10" cy="72.71" r="0.8" fill="#a49ad8"/>
<circle cx="266.66" cy="81.12" r="0.8" fill="#7a80cc"/>
<circle cx="265.24" cy="66.90" r="0.8" fill="#d06080"/>
<circle cx="263.27" cy="93.28" r="0.8" fill="#a49ad8"/>
<circle cx="264.39" cy="61.61" r="0.8" fill="#9a84c8"/>
<circle cx="266.66" cy="60.17" r="0.8" fill="#9aa4e2"/>
<circle cx="263.50" cy="83.74" r="0.8" fill="#7a80cc"/>
<circle cx="262.97" cy="70.15" r="0.8" fill="#b0b2e6"/>
<circle cx="266.21" cy="45.77" r="0.8" fill="#b0b2e6"/>
<circle cx="271.18" cy="67.37" r="0.8" fill="#b01c40"/>
<circle cx="263.31" cy="54.93" r="0.8" fill="#9a84c8"/>
<circle cx="264.30" cy="70.24" r="0.8" fill="#7c84cc"/>
<circle cx="261.36" cy="72.25" r="0.8" fill="#a49ad8"/>
<circle cx="262.88" cy="65.86" r="0.8" fill="#7a80cc"/>
<circle cx="263.44" cy="88.78" r="0.8" fill="#b8a4d8"/>
<circle cx="257.73" cy="78.55" r="0.8" fill="#b8a4d8"/>
<circle cx="263.53" cy="94.13" r="0.8" fill="#a0183a"/>
<circle cx="270.46" cy="78.46" r="0.8" fill="#7c84cc"/>
<circle cx="268.51" cy="75.27" r="0.8" fill="#b0b2e6"/>
<circle cx="257.47" cy="71.38" r="0.8" fill="#9aa4e2"/>
<circle cx="268.53" cy="55.08" r="0.8" fill="#9a84c8"/>
<circle cx="259.61" cy="55.45" r="0.8" fill="#a0183a"/>
<circle cx="263.57" cy="88.30" r="0.8" fill="#c02a50"/>
<circle cx="269.15" cy="59.55" r="0.8" fill="#b01c40"/>
<circle cx="266.96" cy="45.13" r="0.8" fill="#7c84cc"/>
<circle cx="269.33" cy="55.36" r="0.8" fill="#b0b2e6"/>
<circle cx="258.51" cy="62.73" r="0.8" fill="#a49ad8"/>
<circle cx="263.53" cy="59.94" r="0.8" fill="#d06080"/>
<circle cx="262.75" cy="72.64" r="0.8" fill="#b0b2e6"/>
<circle cx="258.50" cy="72.02" r="0.8" fill="#d06080"/>
<circle cx="272.04" cy="57.49" r="0.8" fill="#a49ad8"/>
<circle cx="259.16" cy="75.84" r="0.8" fill="#c4b4dc"/>
<circle cx="266.25" cy="42.22" r="0.8" fill="#d06080"/>
<circle cx="264.45" cy="51.13" r="0.8" fill="#a49ad8"/>
<circle cx="262.92" cy="59.19" r="0.8" fill="#a49ad8"/>
<circle cx="265.65" cy="63.93" r="0.8" fill="#c4b4dc"/>
<circle cx="267.95" cy="56.01" r="0.8" fill="#7a80cc"/>
<circle cx="265.84" cy="60.69" r="0.8" fill="#c4b4dc"/>
<circle cx="260.14" cy="66.36" r="0.8" fill="#b0b2e6"/>
<circle cx="260.49" cy="82.79" r="0.8" fill="#b0b2e6"/>
<circle cx="261.87" cy="53.34" r="0.8" fill="#9a84c8"/>
<circle cx="271.54" cy="73.36" r="0.8" fill="#7c84cc"/>
<circle cx="258.57" cy="80.30" r="0.8" fill="#9a84c8"/>
<circle cx="257.68" cy="80.96" r="0.8" fill="#7a80cc"/>
<circle cx="260.98" cy="57.50" r="0.8" fill="#b8a4d8"/>
<circle cx="262.41" cy="51.23" r="0.8" fill="#9a84c8"/>
<circle cx="262.45" cy="51.47" r="0.8" fill="#7c84cc"/>
<circle cx="271.29" cy="56.33" r="0.8" fill="#7a80cc"/>
<circle cx="269.58" cy="65.63" r="0.8" fill="#7c84cc"/>
<circle cx="266.93" cy="42.37" r="0.8" fill="#7c84cc"/>
<circle cx="260.44" cy="60.12" r="0.8" fill="#c02a50"/>
<circle cx="261.09" cy="56.16" r="0.8" fill="#a0183a"/>
<circle cx="266.88" cy="49.48" r="0.8" fill="#7a80cc"/>
<circle cx="264.45" cy="69.44" r="0.8" fill="#b8a4d8"/>
<circle cx="265.81" cy="77.15" r="0.8" fill="#9aa4e2"/>
<circle cx="262.37" cy="93.90" r="0.8" fill="#b8a4d8"/>
<circle cx="261.81" cy="75.15" r="0.8" fill="#b0b2e6"/>
<circle cx="262.69" cy="82.44" r="0.8" fill="#c4b4dc"/>
<circle cx="259.35" cy="68.62" r="0.8" fill="#7a80cc"/>
<circle cx="266.92" cy="82.62" r="0.8" fill="#7a80cc"/>
<circle cx="266.21" cy="70.67" r="0.8" fill="#b0b2e6"/>
<circle cx="257.79" cy="65.07" r="0.8" fill="#7a80cc"/>
<circle cx="267.69" cy="48.41" r="0.8" fill="#b0b2e6"/>
<circle cx="266.56" cy="41.32" r="0.8" fill="#9a84c8"/>
<circle cx="267.18" cy="48.24" r="0.8" fill="#a49ad8"/>
<circle cx="258.54" cy="70.77" r="0.8" fill="#c4b4dc"/>
<circle cx="261.62" cy="86.58" r="0.8" fill="#9aa4e2"/>
<circle cx="262.59" cy="56.75" r="0.8" fill="#a0183a"/>
<circle cx="264.19" cy="64.41" r="0.8" fill="#7a80cc"/>
<circle cx="272.13" cy="68.59" r="0.8" fill="#b8a4d8"/>
<circle cx="262.62" cy="94.23" r="0.8" fill="#7c84cc"/>
<circle cx="261.38" cy="67.52" r="0.8" fill="#a49ad8"/>
<circle cx="270.24" cy="76.00" r="0.8" fill="#9a84c8"/>
<circle cx="256.32" cy="76.68" r="0.8" fill="#7a80cc"/>
<circle cx="269.19" cy="73.50" r="0.8" fill="#7a80cc"/>
<circle cx="265.96" cy="46.55" r="0.8" fill="#7c84cc"/>
<circle cx="264.74" cy="51.02" r="0.8" fill="#b8a4d8"/>
<circle cx="260.20" cy="56.67" r="0.8" fill="#7c84cc"/>
<circle cx="263.48" cy="90.15" r="0.8" fill="#7a80cc"/>
<circle cx="263.72" cy="95.06" r="0.8" fill="#c02a50"/>
<line x1="253.40" y1="67.30" x2="278.20" y2="67.30" stroke="#111" stroke-width="1.3"/>
<polyline points="265.40,40.80 265.40,28.10 297.30,28.10 297.30,30.60" fill="none" stroke="#333" stroke-width="0.7" stroke-linejoin="round"/>
<text x="281.30" y="30.00" font-size="8.2" text-anchor="middle" fill="#333">****</text>
<text x="275.50" y="66.90" font-size="6.8" text-anchor="start" fill="#2e2e2e" textLength="20.5" lengthAdjust="spacingAndGlyphs">KMS26</text>
<text x="276.90" y="74.70" font-size="6.8" text-anchor="start" fill="#2e2e2e" textLength="20" lengthAdjust="spacingAndGlyphs">KMS34</text>
<text x="276.90" y="81.60" font-size="6.8" text-anchor="start" fill="#2e2e2e" textLength="9.5" lengthAdjust="spacingAndGlyphs">LP1</text>
<text x="273.20" y="88.30" font-size="6.8" text-anchor="start" fill="#2e2e2e" textLength="18.7" lengthAdjust="spacingAndGlyphs">OPM2</text>
<text x="334.80" y="17.20" font-size="11.9" text-anchor="start" fill="#141414" font-weight="bold">C</text>
<line x1="365.40" y1="21.00" x2="365.40" y2="98.00" stroke="#262626" stroke-width="1.0"/>
<line x1="362.40" y1="23.20" x2="365.40" y2="23.20" stroke="#262626" stroke-width="1.0"/>
<text x="359.10" y="25.61" font-size="6.7" text-anchor="end" fill="#2e2e2e">0.2</text>
<line x1="362.40" y1="35.50" x2="365.40" y2="35.50" stroke="#262626" stroke-width="1.0"/>
<text x="359.10" y="37.91" font-size="6.7" text-anchor="end" fill="#2e2e2e">0.0</text>
<line x1="362.40" y1="47.80" x2="365.40" y2="47.80" stroke="#262626" stroke-width="1.0"/>
<text x="359.10" y="50.21" font-size="6.7" text-anchor="end" fill="#2e2e2e">–0.2</text>
<line x1="362.40" y1="60.10" x2="365.40" y2="60.10" stroke="#262626" stroke-width="1.0"/>
<text x="359.10" y="62.51" font-size="6.7" text-anchor="end" fill="#2e2e2e">–0.4</text>
<line x1="362.40" y1="72.40" x2="365.40" y2="72.40" stroke="#262626" stroke-width="1.0"/>
<text x="359.10" y="74.81" font-size="6.7" text-anchor="end" fill="#2e2e2e">–0.6</text>
<line x1="362.40" y1="84.70" x2="365.40" y2="84.70" stroke="#262626" stroke-width="1.0"/>
<text x="359.10" y="87.11" font-size="6.7" text-anchor="end" fill="#2e2e2e">–0.8</text>
<line x1="362.40" y1="97.00" x2="365.40" y2="97.00" stroke="#262626" stroke-width="1.0"/>
<text x="359.10" y="99.41" font-size="6.7" text-anchor="end" fill="#2e2e2e">–1.0</text>
<line x1="365.40" y1="97.80" x2="416.00" y2="97.80" stroke="#262626" stroke-width="1.0"/>
<line x1="379.80" y1="97.80" x2="379.80" y2="100.40" stroke="#262626" stroke-width="1.0"/>
<line x1="401.80" y1="97.80" x2="401.80" y2="100.40" stroke="#262626" stroke-width="1.0"/>
<text x="341.60" y="59.50" font-size="8.2" text-anchor="middle" fill="#2e2e2e" textLength="46" lengthAdjust="spacingAndGlyphs" transform="rotate(-90 341.60 59.50)">AK2 gene effect</text>
<line x1="366.50" y1="35.50" x2="417.00" y2="35.50" stroke="#333" stroke-width="1.1" stroke-dasharray="1.3,1.3"/>
<rect x="379.15" y="30.05" width="1.70" height="1.70" fill="#1f4f8a"/>
<rect x="379.15" y="38.05" width="1.70" height="1.70" fill="#1f4f8a"/>
<rect x="379.15" y="45.85" width="1.70" height="1.70" fill="#1f4f8a"/>
<rect x="379.15" y="50.15" width="1.70" height="1.70" fill="#1f4f8a"/>
<rect x="379.15" y="55.65" width="1.70" height="1.70" fill="#1f4f8a"/>
<rect x="377.15" y="64.35" width="1.70" height="1.70" fill="#1f4f8a"/>
<rect x="380.95" y="64.85" width="1.70" height="1.70" fill="#1f4f8a"/>
<rect x="377.15" y="66.55" width="1.70" height="1.70" fill="#1f4f8a"/>
<rect x="379.15" y="81.65" width="1.70" height="1.70" fill="#1f4f8a"/>
<rect x="379.15" y="84.15" width="1.70" height="1.70" fill="#1f4f8a"/>
<rect x="400.95" y="56.55" width="1.70" height="1.70" fill="#c0102c"/>
<rect x="400.95" y="64.35" width="1.70" height="1.70" fill="#c0102c"/>
<rect x="400.95" y="72.15" width="1.70" height="1.70" fill="#c0102c"/>
<rect x="400.95" y="84.75" width="1.70" height="1.70" fill="#c0102c"/>
<rect x="400.95" y="88.55" width="1.70" height="1.70" fill="#c0102c"/>
<line x1="372.40" y1="60.30" x2="387.20" y2="60.30" stroke="#262626" stroke-width="1.1"/>
<line x1="394.00" y1="73.00" x2="409.00" y2="73.00" stroke="#262626" stroke-width="1.1"/>
<polyline points="379.80,28.20 379.80,26.20 401.80,26.20 401.80,55.70" fill="none" stroke="#333" stroke-width="0.7" stroke-linejoin="round"/>
<text x="390.50" y="26.20" font-size="7.5" text-anchor="middle" fill="#222">*</text>
<text x="380.00" y="110.20" font-size="7.2" text-anchor="middle" fill="#2e2e2e">non-</text>
<text x="380.00" y="118.80" font-size="7.2" text-anchor="middle" fill="#2e2e2e" textLength="20" lengthAdjust="spacingAndGlyphs">t(4;14)</text>
<text x="402.00" y="110.20" font-size="7.2" text-anchor="middle" fill="#2e2e2e" textLength="20" lengthAdjust="spacingAndGlyphs">t(4;14)</text>
<text x="76.50" y="143.60" font-size="11.9" text-anchor="start" fill="#141414" font-weight="bold">D</text>
<line x1="99.20" y1="147.00" x2="99.20" y2="224.60" stroke="#262626" stroke-width="1.0"/>
<line x1="96.20" y1="149.00" x2="99.20" y2="149.00" stroke="#262626" stroke-width="1.0"/>
<text x="92.60" y="151.41" font-size="6.7" text-anchor="end" fill="#2e2e2e">1</text>
<line x1="96.20" y1="163.36" x2="99.20" y2="163.36" stroke="#262626" stroke-width="1.0"/>
<line x1="96.20" y1="177.72" x2="99.20" y2="177.72" stroke="#262626" stroke-width="1.0"/>
<line x1="96.20" y1="192.08" x2="99.20" y2="192.08" stroke="#262626" stroke-width="1.0"/>
<line x1="96.20" y1="206.44" x2="99.20" y2="206.44" stroke="#262626" stroke-width="1.0"/>
<line x1="96.20" y1="220.80" x2="99.20" y2="220.80" stroke="#262626" stroke-width="1.0"/>
<text x="92.60" y="223.21" font-size="6.7" text-anchor="end" fill="#2e2e2e">0</text>
<line x1="98.70" y1="224.00" x2="179.40" y2="224.00" stroke="#262626" stroke-width="1.0"/>
<line x1="102.00" y1="224.00" x2="102.00" y2="226.60" stroke="#262626" stroke-width="1.0"/>
<text x="102.00" y="236.00" font-size="6.7" text-anchor="middle" fill="#2e2e2e">0</text>
<line x1="110.39" y1="224.00" x2="110.39" y2="226.60" stroke="#262626" stroke-width="1.0"/>
<line x1="118.78" y1="224.00" x2="118.78" y2="226.60" stroke="#262626" stroke-width="1.0"/>
<line x1="127.17" y1="224.00" x2="127.17" y2="226.60" stroke="#262626" stroke-width="1.0"/>
<line x1="135.56" y1="224.00" x2="135.56" y2="226.60" stroke="#262626" stroke-width="1.0"/>
<line x1="143.95" y1="224.00" x2="143.95" y2="226.60" stroke="#262626" stroke-width="1.0"/>
<line x1="152.34" y1="224.00" x2="152.34" y2="226.60" stroke="#262626" stroke-width="1.0"/>
<line x1="160.73" y1="224.00" x2="160.73" y2="226.60" stroke="#262626" stroke-width="1.0"/>
<line x1="169.12" y1="224.00" x2="169.12" y2="226.60" stroke="#262626" stroke-width="1.0"/>
<line x1="177.51" y1="224.00" x2="177.51" y2="226.60" stroke="#262626" stroke-width="1.0"/>
<text x="177.51" y="236.00" font-size="6.7" text-anchor="middle" fill="#2e2e2e">9</text>
<text x="140.00" y="247.30" font-size="8.2" text-anchor="middle" fill="#2e2e2e" textLength="18" lengthAdjust="spacingAndGlyphs">Years</text>
<text x="84.30" y="184.80" font-size="8.6" text-anchor="middle" fill="#2e2e2e" textLength="20.8" lengthAdjust="spacingAndGlyphs" transform="rotate(-90 84.30 184.80)">OS (%)</text>
<polyline points="102.31,149.62 103.65,149.62 103.65,150.58 105.00,150.58 105.00,151.54 106.35,151.54 106.35,152.50 107.69,152.50 107.69,153.46 109.23,153.46 109.23,154.74 110.77,154.74 110.77,156.03 112.31,156.03 112.31,157.31 113.85,157.31 113.85,158.33 115.38,158.33 115.38,159.36 116.92,159.36 116.92,160.38 118.46,160.38 118.46,161.15 120.00,161.15 120.00,161.92 121.54,161.92 121.54,162.69 123.08,162.69 123.08,163.21 124.62,163.21 124.62,163.72 126.15,163.72 126.15,164.23 127.69,164.23 127.69,165.00 129.23,165.00 129.23,165.77 130.77,165.77 130.77,166.54 132.31,166.54 132.31,167.31 133.85,167.31 133.85,168.08 135.38,168.08 135.38,168.85 136.92,168.85 136.92,169.62 138.46,169.62 138.46,170.38 140.00,170.38 140.00,171.15 141.54,171.15 141.54,171.67 143.08,171.67 143.08,172.18 144.62,172.18 144.62,172.69 146.15,172.69 146.15,173.21 147.69,173.21 147.69,173.72 149.23,173.72 149.23,174.23 150.77,174.23 150.77,175.00 152.31,175.00 152.31,175.77 153.85,175.77 153.85,176.54 155.38,176.54 155.38,177.05 156.92,177.05 156.92,177.56 158.46,177.56 158.46,178.08 160.00,178.08 160.00,178.59 161.54,178.59 161.54,179.10 163.08,179.10 163.08,179.62 164.62,179.62 164.62,180.13 166.15,180.13 166.15,180.64 167.69,180.64 167.69,181.15 168.97,181.15 168.97,182.44 170.26,182.44 170.26,183.72 171.54,183.72 171.54,185.00" fill="none" stroke="#3aab3a" stroke-width="1.45" stroke-linejoin="round"/>
<polyline points="102.31,149.62 103.65,149.62 103.65,150.19 105.00,150.19 105.00,150.77 106.35,150.77 106.35,151.35 107.69,151.35 107.69,151.92 109.23,151.92 109.23,152.44 110.77,152.44 110.77,152.95 112.31,152.95 112.31,153.46 113.85,153.46 113.85,154.62 115.38,154.62 115.38,155.77 116.92,155.77 116.92,156.54 118.46,156.54 118.46,157.31 120.00,157.31 120.00,158.08 121.54,158.08 121.54,158.46 123.08,158.46 123.08,158.85 124.23,158.85 124.23,160.00 125.38,160.00 125.38,161.15 126.54,161.15 126.54,161.92 127.69,161.92 127.69,162.69 129.23,162.69 129.23,163.85 130.77,163.85 130.77,165.00 132.31,165.00 132.31,166.54 133.85,166.54 133.85,168.08 135.38,168.08 135.38,169.23 136.92,169.23 136.92,170.38 138.46,170.38 138.46,170.77 140.00,170.77 140.00,171.15 141.54,171.15 141.54,171.92 143.08,171.92 143.08,172.69 144.62,172.69 144.62,172.95 146.15,172.95 146.15,173.21 147.69,173.21 147.69,173.46 149.23,173.46 149.23,173.08 150.77,173.08 150.77,172.69 152.31,172.69 152.31,173.08 153.85,173.08 153.85,173.46 155.38,173.46 155.38,173.85 156.92,173.85 156.92,174.23 158.46,174.23 158.46,174.23 160.00,174.23 160.00,174.23 161.54,174.23 161.54,174.23 163.08,174.23 163.08,174.49 164.62,174.49 164.62,174.74 166.15,174.74 166.15,175.00 167.69,175.00 167.69,177.31 168.97,177.31 168.97,177.31 170.26,177.31 170.26,177.31 171.54,177.31 171.54,177.31" fill="none" stroke="#23509e" stroke-width="1.45" stroke-linejoin="round"/>
<polyline points="102.31,149.62 103.59,149.62 103.59,150.64 104.87,150.64 104.87,151.67 106.15,151.67 106.15,152.69 107.69,152.69 107.69,153.97 109.23,153.97 109.23,155.26 110.77,155.26 110.77,156.54 112.31,156.54 112.31,158.46 113.85,158.46 113.85,160.38 115.00,160.38 115.00,162.69 116.15,162.69 116.15,165.00 117.31,165.00 117.31,166.54 118.46,166.54 118.46,168.08 120.00,168.08 120.00,168.85 121.54,168.85 121.54,169.62 122.82,169.62 122.82,170.64 124.10,170.64 124.10,171.67 125.38,171.67 125.38,172.69 126.67,172.69 126.67,173.72 127.95,173.72 127.95,174.74 129.23,174.74 129.23,175.77 130.77,175.77 130.77,176.28 132.31,176.28 132.31,176.79 133.85,176.79 133.85,177.31 135.38,177.31 135.38,178.08 136.92,178.08 136.92,178.85 138.46,178.85 138.46,179.62 140.00,179.62 140.00,180.38 141.54,180.38 141.54,181.15 143.08,181.15 143.08,181.92 144.62,181.92 144.62,182.69 146.15,182.69 146.15,183.46 147.69,183.46 147.69,184.23 149.23,184.23 149.23,185.00 150.77,185.00 150.77,185.77 152.31,185.77 152.31,186.54 153.85,186.54 153.85,187.31 155.38,187.31 155.38,188.08 156.92,188.08 156.92,188.85 158.46,188.85 158.46,189.62 160.00,189.62 160.00,190.38 161.54,190.38 161.54,191.15 163.08,191.15 163.08,191.92 164.62,191.92 164.62,192.69 166.00,192.69 166.00,192.69 167.38,192.69 167.38,192.69 168.77,192.69 168.77,192.69 170.15,192.69 170.15,192.69 171.54,192.69 171.54,192.69" fill="none" stroke="#c8102e" stroke-width="1.45" stroke-linejoin="round"/>
<line x1="102.00" y1="198.20" x2="105.80" y2="198.20" stroke="#23509e" stroke-width="1.3"/>
<text x="108.50" y="200.60" font-size="7.0" text-anchor="start" fill="#2e2e2e" textLength="12.2" lengthAdjust="spacingAndGlyphs">Low</text>
<line x1="102.00" y1="207.00" x2="105.80" y2="207.00" stroke="#3aab3a" stroke-width="1.3"/>
<text x="108.50" y="209.40" font-size="7.0" text-anchor="start" fill="#2e2e2e" textLength="11" lengthAdjust="spacingAndGlyphs">mid</text>
<line x1="102.00" y1="215.80" x2="105.80" y2="215.80" stroke="#c8102e" stroke-width="1.3"/>
<text x="108.50" y="218.20" font-size="7.0" text-anchor="start" fill="#2e2e2e" textLength="15.3" lengthAdjust="spacingAndGlyphs">High</text>
<text x="142.30" y="221.20" font-size="6.8" text-anchor="start" fill="#2e2e2e" textLength="33.7" lengthAdjust="spacingAndGlyphs"><tspan font-style="italic">P</tspan> = 1.4e-06</text>
<line x1="212.80" y1="146.50" x2="212.80" y2="224.40" stroke="#262626" stroke-width="1.0"/>
<line x1="209.80" y1="148.80" x2="212.80" y2="148.80" stroke="#262626" stroke-width="1.0"/>
<text x="206.20" y="151.21" font-size="6.7" text-anchor="end" fill="#2e2e2e">1</text>
<line x1="209.80" y1="163.16" x2="212.80" y2="163.16" stroke="#262626" stroke-width="1.0"/>
<line x1="209.80" y1="177.52" x2="212.80" y2="177.52" stroke="#262626" stroke-width="1.0"/>
<line x1="209.80" y1="191.88" x2="212.80" y2="191.88" stroke="#262626" stroke-width="1.0"/>
<line x1="209.80" y1="206.24" x2="212.80" y2="206.24" stroke="#262626" stroke-width="1.0"/>
<line x1="209.80" y1="220.60" x2="212.80" y2="220.60" stroke="#262626" stroke-width="1.0"/>
<text x="206.20" y="223.01" font-size="6.7" text-anchor="end" fill="#2e2e2e">0</text>
<line x1="212.30" y1="223.90" x2="293.80" y2="223.90" stroke="#262626" stroke-width="1.0"/>
<line x1="215.80" y1="223.90" x2="215.80" y2="226.50" stroke="#262626" stroke-width="1.0"/>
<text x="215.80" y="235.90" font-size="6.7" text-anchor="middle" fill="#2e2e2e">0</text>
<line x1="224.19" y1="223.90" x2="224.19" y2="226.50" stroke="#262626" stroke-width="1.0"/>
<line x1="232.58" y1="223.90" x2="232.58" y2="226.50" stroke="#262626" stroke-width="1.0"/>
<line x1="240.97" y1="223.90" x2="240.97" y2="226.50" stroke="#262626" stroke-width="1.0"/>
<line x1="249.36" y1="223.90" x2="249.36" y2="226.50" stroke="#262626" stroke-width="1.0"/>
<line x1="257.75" y1="223.90" x2="257.75" y2="226.50" stroke="#262626" stroke-width="1.0"/>
<line x1="266.14" y1="223.90" x2="266.14" y2="226.50" stroke="#262626" stroke-width="1.0"/>
<line x1="274.53" y1="223.90" x2="274.53" y2="226.50" stroke="#262626" stroke-width="1.0"/>
<line x1="282.92" y1="223.90" x2="282.92" y2="226.50" stroke="#262626" stroke-width="1.0"/>
<line x1="291.31" y1="223.90" x2="291.31" y2="226.50" stroke="#262626" stroke-width="1.0"/>
<text x="291.31" y="235.90" font-size="6.7" text-anchor="middle" fill="#2e2e2e">9</text>
<text x="253.80" y="247.30" font-size="8.2" text-anchor="middle" fill="#2e2e2e" textLength="18" lengthAdjust="spacingAndGlyphs">Years</text>
<text x="198.30" y="184.80" font-size="8.6" text-anchor="middle" fill="#2e2e2e" textLength="23" lengthAdjust="spacingAndGlyphs" transform="rotate(-90 198.30 184.80)">PFS (%)</text>
<polyline points="215.77,148.85 217.46,148.85 217.46,151.15 219.15,151.15 219.15,153.46 220.69,153.46 220.69,155.38 222.23,155.38 222.23,157.31 223.77,157.31 223.77,159.23 225.31,159.23 225.31,161.15 226.85,161.15 226.85,163.46 228.38,163.46 228.38,165.77 229.92,165.77 229.92,168.08 231.46,168.08 231.46,170.38 233.00,170.38 233.00,172.69 234.54,172.69 234.54,175.00 236.08,175.00 236.08,176.92 237.62,176.92 237.62,178.85 239.15,178.85 239.15,180.00 240.69,180.00 240.69,181.15 242.23,181.15 242.23,183.08 243.77,183.08 243.77,185.00 245.31,185.00 245.31,187.05 246.85,187.05 246.85,189.10 248.38,189.10 248.38,191.15 249.92,191.15 249.92,192.18 251.46,192.18 251.46,193.21 253.00,193.21 253.00,194.23 254.54,194.23 254.54,195.00 256.08,195.00 256.08,195.77 257.62,195.77 257.62,196.54 259.15,196.54 259.15,197.31 260.69,197.31 260.69,198.08 262.23,198.08 262.23,198.85 263.77,198.85 263.77,199.10 265.31,199.10 265.31,199.36 266.85,199.36 266.85,199.62 268.38,199.62 268.38,200.13 269.92,200.13 269.92,200.64 271.46,200.64 271.46,201.15 273.00,201.15 273.00,201.67 274.54,201.67 274.54,202.18 276.08,202.18 276.08,202.69 277.62,202.69 277.62,203.21 279.15,203.21 279.15,203.72 280.69,203.72 280.69,204.23 281.97,204.23 281.97,204.23 283.26,204.23 283.26,204.23 284.54,204.23 284.54,204.23" fill="none" stroke="#3aab3a" stroke-width="1.45" stroke-linejoin="round"/>
<polyline points="215.77,148.85 217.46,148.85 217.46,150.77 219.15,150.77 219.15,152.69 220.31,152.69 220.31,153.85 221.46,153.85 221.46,155.00 223.00,155.00 223.00,155.77 224.54,155.77 224.54,156.54 226.08,156.54 226.08,158.46 227.62,158.46 227.62,160.38 228.77,160.38 228.77,162.69 229.92,162.69 229.92,165.00 231.46,165.00 231.46,167.31 233.00,167.31 233.00,169.62 234.54,169.62 234.54,171.92 236.08,171.92 236.08,174.23 237.62,174.23 237.62,176.54 239.15,176.54 239.15,178.85 240.69,178.85 240.69,180.00 242.23,180.00 242.23,181.15 243.77,181.15 243.77,183.08 245.31,183.08 245.31,185.00 246.85,185.00 246.85,187.69 248.38,187.69 248.38,190.38 249.92,190.38 249.92,190.90 251.46,190.90 251.46,191.41 253.00,191.41 253.00,191.92 254.28,191.92 254.28,191.92 255.56,191.92 255.56,191.92 256.85,191.92 256.85,191.92 258.13,191.92 258.13,192.69 259.41,192.69 259.41,193.46 260.69,193.46 260.69,194.23 262.23,194.23 262.23,195.38 263.77,195.38 263.77,196.54 265.31,196.54 265.31,197.69 266.85,197.69 266.85,198.85 268.38,198.85 268.38,198.85 269.92,198.85 269.92,198.85 271.46,198.85 271.46,199.62 273.00,199.62 273.00,200.38 274.54,200.38 274.54,200.38 276.08,200.38 276.08,200.38 277.62,200.38 277.62,200.38 279.00,200.38 279.00,200.38 280.38,200.38 280.38,200.38 281.77,200.38 281.77,200.38 283.15,200.38 283.15,200.38 284.54,200.38 284.54,200.38" fill="none" stroke="#23509e" stroke-width="1.45" stroke-linejoin="round"/>
<polyline points="215.77,148.85 217.62,148.85 217.62,153.46 218.77,153.46 218.77,155.38 219.92,155.38 219.92,157.31 221.08,157.31 221.08,159.62 222.23,159.62 222.23,161.92 223.38,161.92 223.38,165.00 224.54,165.00 224.54,168.08 225.69,168.08 225.69,171.15 226.85,171.15 226.85,174.23 228.00,174.23 228.00,176.92 229.15,176.92 229.15,179.62 230.31,179.62 230.31,181.92 231.46,181.92 231.46,184.23 233.00,184.23 233.00,185.77 234.54,185.77 234.54,187.31 236.08,187.31 236.08,188.85 237.62,188.85 237.62,190.38 239.15,190.38 239.15,192.31 240.69,192.31 240.69,194.23 242.23,194.23 242.23,195.77 243.77,195.77 243.77,197.31 245.31,197.31 245.31,198.08 246.85,198.08 246.85,198.85 248.38,198.85 248.38,199.62 249.92,199.62 249.92,200.38 251.46,200.38 251.46,201.15 253.00,201.15 253.00,201.92 254.54,201.92 254.54,202.69 256.08,202.69 256.08,203.46 257.62,203.46 257.62,204.23 259.15,204.23 259.15,204.74 260.69,204.74 260.69,205.26 262.23,205.26 262.23,205.77 263.77,205.77 263.77,205.77 265.31,205.77 265.31,205.77 266.85,205.77 266.85,205.77 268.38,205.77 268.38,206.03 269.92,206.03 269.92,206.28 271.46,206.28 271.46,206.54 273.00,206.54 273.00,207.31 274.54,207.31 274.54,208.08 276.08,208.08 276.08,208.33 277.62,208.33 277.62,208.59 279.15,208.59 279.15,208.85 280.69,208.85 280.69,209.62 282.23,209.62 282.23,210.38 283.38,210.38 283.38,211.15 284.54,211.15 284.54,211.92" fill="none" stroke="#c8102e" stroke-width="1.45" stroke-linejoin="round"/>
<line x1="216.00" y1="198.00" x2="220.00" y2="198.00" stroke="#23509e" stroke-width="1.3"/>
<text x="223.50" y="200.40" font-size="7.0" text-anchor="start" fill="#2e2e2e" textLength="12.2" lengthAdjust="spacingAndGlyphs">Low</text>
<line x1="216.00" y1="206.80" x2="220.00" y2="206.80" stroke="#3aab3a" stroke-width="1.3"/>
<text x="223.50" y="209.20" font-size="7.0" text-anchor="start" fill="#2e2e2e" textLength="11" lengthAdjust="spacingAndGlyphs">mid</text>
<line x1="216.00" y1="215.60" x2="220.00" y2="215.60" stroke="#c8102e" stroke-width="1.3"/>
<text x="223.50" y="218.00" font-size="7.0" text-anchor="start" fill="#2e2e2e" textLength="15.3" lengthAdjust="spacingAndGlyphs">High</text>
<text x="256.00" y="220.60" font-size="6.8" text-anchor="start" fill="#2e2e2e" textLength="33.7" lengthAdjust="spacingAndGlyphs"><tspan font-style="italic">P</tspan> = 2.9e-06</text>
<text x="309.80" y="143.60" font-size="11.9" text-anchor="start" fill="#141414" font-weight="bold">E</text>
<text x="320.60" y="162.60" font-size="8.8" text-anchor="start" fill="#2e2e2e" textLength="36.2" lengthAdjust="spacingAndGlyphs">Category</text>
<line x1="320.60" y1="164.20" x2="356.80" y2="164.20" stroke="#2e2e2e" stroke-width="0.7"/>
<text x="383.50" y="162.60" font-size="8.8" text-anchor="middle" fill="#2e2e2e" textLength="16.3" lengthAdjust="spacingAndGlyphs">AK2</text>
<text x="426.30" y="162.60" font-size="8.0" text-anchor="middle" fill="#2e2e2e">N</text>
<line x1="423.30" y1="164.00" x2="429.40" y2="164.00" stroke="#2e2e2e" stroke-width="0.7"/>
<text x="447.30" y="162.60" font-size="8.0" text-anchor="middle" fill="#2e2e2e" font-style="italic">P</text>
<line x1="444.60" y1="164.00" x2="449.80" y2="164.00" stroke="#2e2e2e" stroke-width="0.7"/>
<line x1="383.50" y1="167.50" x2="383.50" y2="224.00" stroke="#333" stroke-width="0.9" stroke-dasharray="1.1,1.3"/>
<text x="356.80" y="173.80" font-size="7.0" text-anchor="end" fill="#2e2e2e" textLength="29.5" lengthAdjust="spacingAndGlyphs">t(4;14) OS</text>
<line x1="393.10" y1="171.30" x2="419.00" y2="171.30" stroke="#c8102e" stroke-width="1.2"/>
<circle cx="406.20" cy="171.30" r="1.35" fill="#2a1818"/>
<text x="430.40" y="173.90" font-size="7.8" text-anchor="end" fill="#2e2e2e" textLength="7.7" lengthAdjust="spacingAndGlyphs">73</text>
<text x="434.70" y="173.90" font-size="7.6" text-anchor="start" fill="#2e2e2e" textLength="24.1" lengthAdjust="spacingAndGlyphs">7.2×10<tspan font-size="4.8" dy="-3.0">–4</tspan></text>
<text x="356.80" y="189.10" font-size="7.0" text-anchor="end" fill="#2e2e2e" textLength="27" lengthAdjust="spacingAndGlyphs">other OS</text>
<line x1="386.50" y1="186.60" x2="394.60" y2="186.60" stroke="#1f4e79" stroke-width="1.2"/>
<circle cx="390.40" cy="186.60" r="1.35" fill="#12324f"/>
<text x="431.60" y="189.20" font-size="7.8" text-anchor="end" fill="#2e2e2e" textLength="10.6" lengthAdjust="spacingAndGlyphs">652</text>
<text x="434.70" y="189.20" font-size="7.6" text-anchor="start" fill="#2e2e2e" textLength="24.1" lengthAdjust="spacingAndGlyphs">4.2×10<tspan font-size="4.8" dy="-3.0">–4</tspan></text>
<text x="356.80" y="204.30" font-size="7.0" text-anchor="end" fill="#2e2e2e" textLength="31.6" lengthAdjust="spacingAndGlyphs">t(4;14) PFS</text>
<line x1="386.50" y1="201.80" x2="407.30" y2="201.80" stroke="#c8102e" stroke-width="1.2"/>
<circle cx="397.00" cy="201.80" r="1.35" fill="#2a1818"/>
<text x="430.40" y="204.40" font-size="7.8" text-anchor="end" fill="#2e2e2e" textLength="7.7" lengthAdjust="spacingAndGlyphs">73</text>
<text x="434.70" y="204.40" font-size="7.6" text-anchor="start" fill="#2e2e2e" textLength="24.1" lengthAdjust="spacingAndGlyphs">2.8×10<tspan font-size="4.8" dy="-3.0">–4</tspan></text>
<text x="356.80" y="219.60" font-size="7.0" text-anchor="end" fill="#2e2e2e" textLength="29.1" lengthAdjust="spacingAndGlyphs">other PFS</text>
<line x1="386.00" y1="217.10" x2="391.70" y2="217.10" stroke="#1f4e79" stroke-width="1.2"/>
<circle cx="388.50" cy="217.10" r="1.35" fill="#12324f"/>
<text x="431.60" y="219.70" font-size="7.8" text-anchor="end" fill="#2e2e2e" textLength="10.6" lengthAdjust="spacingAndGlyphs">652</text>
<text x="441.00" y="219.70" font-size="7.6" text-anchor="start" fill="#2e2e2e" textLength="11.5" lengthAdjust="spacingAndGlyphs">.010</text>
<line x1="354.50" y1="224.40" x2="413.50" y2="224.40" stroke="#262626" stroke-width="1.0"/>
<line x1="355.60" y1="224.40" x2="355.60" y2="227.00" stroke="#262626" stroke-width="1.0"/>
<text x="355.60" y="236.40" font-size="6.7" text-anchor="middle" fill="#2e2e2e">–4</text>
<line x1="369.60" y1="224.40" x2="369.60" y2="227.00" stroke="#262626" stroke-width="1.0"/>
<line x1="383.50" y1="224.40" x2="383.50" y2="227.00" stroke="#262626" stroke-width="1.0"/>
<text x="383.50" y="236.40" font-size="6.7" text-anchor="middle" fill="#2e2e2e">0</text>
<line x1="397.40" y1="224.40" x2="397.40" y2="227.00" stroke="#262626" stroke-width="1.0"/>
<line x1="411.30" y1="224.40" x2="411.30" y2="227.00" stroke="#262626" stroke-width="1.0"/>
<text x="411.30" y="236.40" font-size="6.7" text-anchor="middle" fill="#2e2e2e">4</text>
<text x="383.50" y="247.00" font-size="8.2" text-anchor="middle" fill="#2e2e2e" textLength="54.5" lengthAdjust="spacingAndGlyphs">Hazard ratio (log2)</text>
<text x="6.50" y="269.80" font-size="11.9" text-anchor="start" fill="#141414" font-weight="bold">F</text>
<circle cx="23.30" cy="274.40" r="4.0" fill="#f5b3b3" stroke="#e06060" stroke-width="0.75"/>
<circle cx="23.30" cy="274.40" r="1.9" fill="#ea7c7c" stroke="#d24c50" stroke-width="0.5"/>
<circle cx="32.50" cy="274.40" r="4.0" fill="#f5b3b3" stroke="#e06060" stroke-width="0.75"/>
<circle cx="32.50" cy="274.40" r="1.9" fill="#ea7c7c" stroke="#d24c50" stroke-width="0.5"/>
<circle cx="20.40" cy="281.80" r="4.0" fill="#f5b3b3" stroke="#e06060" stroke-width="0.75"/>
<circle cx="20.40" cy="281.80" r="1.9" fill="#ea7c7c" stroke="#d24c50" stroke-width="0.5"/>
<circle cx="29.50" cy="281.80" r="4.0" fill="#f5b3b3" stroke="#e06060" stroke-width="0.75"/>
<circle cx="29.50" cy="281.80" r="1.9" fill="#ea7c7c" stroke="#d24c50" stroke-width="0.5"/>
<circle cx="39.20" cy="281.80" r="4.0" fill="#f5b3b3" stroke="#e06060" stroke-width="0.75"/>
<circle cx="39.20" cy="281.80" r="1.9" fill="#ea7c7c" stroke="#d24c50" stroke-width="0.5"/>
<circle cx="25.80" cy="289.00" r="4.0" fill="#f5b3b3" stroke="#e06060" stroke-width="0.75"/>
<circle cx="25.80" cy="289.00" r="1.9" fill="#ea7c7c" stroke="#d24c50" stroke-width="0.5"/>
<circle cx="35.20" cy="289.00" r="4.0" fill="#f5b3b3" stroke="#e06060" stroke-width="0.75"/>
<circle cx="35.20" cy="289.00" r="1.9" fill="#ea7c7c" stroke="#d24c50" stroke-width="0.5"/>
<circle cx="24.60" cy="317.70" r="4.0" fill="#c4e4bf" stroke="#7cc478" stroke-width="0.75"/>
<circle cx="24.60" cy="317.70" r="1.9" fill="#98d694" stroke="#5eb65e" stroke-width="0.5"/>
<circle cx="33.50" cy="317.70" r="4.0" fill="#c4e4bf" stroke="#7cc478" stroke-width="0.75"/>
<circle cx="33.50" cy="317.70" r="1.9" fill="#98d694" stroke="#5eb65e" stroke-width="0.5"/>
<circle cx="21.50" cy="325.40" r="4.0" fill="#c4e4bf" stroke="#7cc478" stroke-width="0.75"/>
<circle cx="21.50" cy="325.40" r="1.9" fill="#98d694" stroke="#5eb65e" stroke-width="0.5"/>
<circle cx="31.10" cy="325.40" r="4.0" fill="#c4e4bf" stroke="#7cc478" stroke-width="0.75"/>
<circle cx="31.10" cy="325.40" r="1.9" fill="#98d694" stroke="#5eb65e" stroke-width="0.5"/>
<circle cx="40.70" cy="325.40" r="4.0" fill="#c4e4bf" stroke="#7cc478" stroke-width="0.75"/>
<circle cx="40.70" cy="325.40" r="1.9" fill="#98d694" stroke="#5eb65e" stroke-width="0.5"/>
<circle cx="27.50" cy="333.00" r="4.0" fill="#f5b3b3" stroke="#e06060" stroke-width="0.75"/>
<circle cx="27.50" cy="333.00" r="1.9" fill="#ea7c7c" stroke="#d24c50" stroke-width="0.5"/>
<circle cx="37.10" cy="333.00" r="4.0" fill="#f5b3b3" stroke="#e06060" stroke-width="0.75"/>
<circle cx="37.10" cy="333.00" r="1.9" fill="#ea7c7c" stroke="#d24c50" stroke-width="0.5"/>
<circle cx="25.10" cy="358.10" r="4.0" fill="#c4e4bf" stroke="#7cc478" stroke-width="0.75"/>
<circle cx="25.10" cy="358.10" r="1.9" fill="#98d694" stroke="#5eb65e" stroke-width="0.5"/>
<circle cx="34.20" cy="358.10" r="4.0" fill="#f5b3b3" stroke="#e06060" stroke-width="0.75"/>
<circle cx="34.20" cy="358.10" r="1.9" fill="#ea7c7c" stroke="#d24c50" stroke-width="0.5"/>
<circle cx="21.50" cy="365.60" r="4.0" fill="#f5b3b3" stroke="#e06060" stroke-width="0.75"/>
<circle cx="21.50" cy="365.60" r="1.9" fill="#ea7c7c" stroke="#d24c50" stroke-width="0.5"/>
<circle cx="31.10" cy="365.60" r="4.0" fill="#f5b3b3" stroke="#e06060" stroke-width="0.75"/>
<circle cx="31.10" cy="365.60" r="1.9" fill="#ea7c7c" stroke="#d24c50" stroke-width="0.5"/>
<circle cx="41.10" cy="365.60" r="4.0" fill="#f5b3b3" stroke="#e06060" stroke-width="0.75"/>
<circle cx="41.10" cy="365.60" r="1.9" fill="#ea7c7c" stroke="#d24c50" stroke-width="0.5"/>
<circle cx="27.50" cy="372.70" r="4.0" fill="#f5b3b3" stroke="#e06060" stroke-width="0.75"/>
<circle cx="27.50" cy="372.70" r="1.9" fill="#ea7c7c" stroke="#d24c50" stroke-width="0.5"/>
<circle cx="37.10" cy="372.70" r="4.0" fill="#f5b3b3" stroke="#e06060" stroke-width="0.75"/>
<circle cx="37.10" cy="372.70" r="1.9" fill="#ea7c7c" stroke="#d24c50" stroke-width="0.5"/>
<circle cx="45.30" cy="296.20" r="2.2" fill="#fff" stroke="#5cb85c" stroke-width="0.75"/>
<circle cx="42.60" cy="300.30" r="2.2" fill="#fff" stroke="#5cb85c" stroke-width="0.75"/>
<circle cx="48.00" cy="300.30" r="2.2" fill="#fff" stroke="#5cb85c" stroke-width="0.75"/>
<text x="62.60" y="292.20" font-size="6.9" text-anchor="middle" fill="#2e2e2e" textLength="36.5" lengthAdjust="spacingAndGlyphs">LentiCRISPR</text>
<text x="62.50" y="299.90" font-size="6.9" text-anchor="middle" fill="#2e2e2e" textLength="12.5" lengthAdjust="spacingAndGlyphs">GFP</text>
<path d="M39.5,300.6 Q33.5,302 32.6,308.5" fill="none" stroke="#333" stroke-width="0.75"/>
<path d="M31.2,306.6 L32.6,309.2 L34,306.8" fill="none" stroke="#333" stroke-width="0.75"/>
<text x="54.30" y="328.50" font-size="6.9" text-anchor="middle" fill="#2e2e2e" textLength="13" lengthAdjust="spacingAndGlyphs">70%</text>
<text x="53.90" y="336.20" font-size="7.0" text-anchor="middle" fill="#2e2e2e" textLength="15.4" lengthAdjust="spacingAndGlyphs">GFP+</text>
<line x1="32.30" y1="341.50" x2="32.30" y2="349.00" stroke="#333" stroke-width="0.75" stroke-dasharray="1,0.9"/>
<path d="M30.9,347.4 L32.3,349.8 L33.7,347.4" fill="none" stroke="#333" stroke-width="0.75"/>
<text x="38.30" y="348.90" font-size="6.9" text-anchor="start" fill="#2e2e2e" textLength="19.5" lengthAdjust="spacingAndGlyphs">7 Days</text>
<text x="54.50" y="367.30" font-size="6.9" text-anchor="middle" fill="#2e2e2e" textLength="12.5" lengthAdjust="spacingAndGlyphs">10%</text>
<text x="53.90" y="375.20" font-size="7.0" text-anchor="middle" fill="#2e2e2e" textLength="15.4" lengthAdjust="spacingAndGlyphs">GFP+</text>
<text x="104.00" y="269.80" font-size="11.9" text-anchor="start" fill="#141414" font-weight="bold">G</text>
<line x1="143.50" y1="279.00" x2="143.50" y2="353.60" stroke="#262626" stroke-width="1.0"/>
<line x1="140.50" y1="353.10" x2="143.50" y2="353.10" stroke="#262626" stroke-width="1.0"/>
<text x="136.90" y="355.51" font-size="6.7" text-anchor="end" fill="#2e2e2e">0</text>
<line x1="140.50" y1="329.33" x2="143.50" y2="329.33" stroke="#262626" stroke-width="1.0"/>
<text x="136.90" y="331.75" font-size="6.7" text-anchor="end" fill="#2e2e2e">50</text>
<line x1="140.50" y1="305.57" x2="143.50" y2="305.57" stroke="#262626" stroke-width="1.0"/>
<text x="136.90" y="307.98" font-size="6.7" text-anchor="end" fill="#2e2e2e">100</text>
<line x1="140.50" y1="281.80" x2="143.50" y2="281.80" stroke="#262626" stroke-width="1.0"/>
<text x="136.90" y="284.21" font-size="6.7" text-anchor="end" fill="#2e2e2e">150</text>
<rect x="146.90" y="306.52" width="4.50" height="46.58" fill="#3aa83c"/>
<line x1="149.15" y1="292.70" x2="149.15" y2="319.60" stroke="#1a1a1a" stroke-width="0.85"/>
<line x1="147.75" y1="292.70" x2="150.55" y2="292.70" stroke="#1a1a1a" stroke-width="0.8"/>
<path d="M147.95,292.60 L150.35,292.60 L149.15,294.70 Z" fill="#151515" stroke="none" stroke-width="1"/>
<path d="M147.95,304.84 L150.35,304.84 L149.15,306.94 Z" fill="#151515" stroke="none" stroke-width="1"/>
<path d="M147.95,317.70 L150.35,317.70 L149.15,319.80 Z" fill="#151515" stroke="none" stroke-width="1"/>
<rect x="155.30" y="306.99" width="4.60" height="46.11" fill="#3aa83c"/>
<line x1="157.60" y1="294.60" x2="157.60" y2="319.00" stroke="#1a1a1a" stroke-width="0.85"/>
<line x1="156.20" y1="294.60" x2="159.00" y2="294.60" stroke="#1a1a1a" stroke-width="0.8"/>
<path d="M156.40,294.50 L158.80,294.50 L157.60,296.60 Z" fill="#151515" stroke="none" stroke-width="1"/>
<path d="M156.40,305.88 L158.80,305.88 L157.60,307.98 Z" fill="#151515" stroke="none" stroke-width="1"/>
<path d="M156.40,317.10 L158.80,317.10 L157.60,319.20 Z" fill="#151515" stroke="none" stroke-width="1"/>
<rect x="170.00" y="306.52" width="4.50" height="46.58" fill="#c9c9c9"/>
<line x1="172.25" y1="294.60" x2="172.25" y2="317.00" stroke="#1a1a1a" stroke-width="0.85"/>
<line x1="170.85" y1="294.60" x2="173.65" y2="294.60" stroke="#1a1a1a" stroke-width="0.8"/>
<path d="M171.05,294.50 L173.45,294.50 L172.25,296.60 Z" fill="#151515" stroke="none" stroke-width="1"/>
<path d="M171.05,306.46 L173.45,306.46 L172.25,308.56 Z" fill="#151515" stroke="none" stroke-width="1"/>
<path d="M171.05,315.10 L173.45,315.10 L172.25,317.20 Z" fill="#151515" stroke="none" stroke-width="1"/>
<rect x="178.40" y="347.87" width="4.60" height="5.23" fill="#dadada"/>
<line x1="180.70" y1="347.00" x2="180.70" y2="349.00" stroke="#1a1a1a" stroke-width="0.85"/>
<line x1="179.30" y1="347.00" x2="182.10" y2="347.00" stroke="#1a1a1a" stroke-width="0.8"/>
<path d="M179.50,346.90 L181.90,346.90 L180.70,349.00 Z" fill="#151515" stroke="none" stroke-width="1"/>
<path d="M179.50,346.05 L181.90,346.05 L180.70,348.15 Z" fill="#151515" stroke="none" stroke-width="1"/>
<path d="M179.50,347.10 L181.90,347.10 L180.70,349.20 Z" fill="#151515" stroke="none" stroke-width="1"/>
<rect x="192.30" y="307.47" width="4.80" height="45.63" fill="#e9978b"/>
<line x1="194.70" y1="301.70" x2="194.70" y2="309.40" stroke="#1a1a1a" stroke-width="0.85"/>
<line x1="193.30" y1="301.70" x2="196.10" y2="301.70" stroke="#1a1a1a" stroke-width="0.8"/>
<path d="M193.50,301.60 L195.90,301.60 L194.70,303.70 Z" fill="#151515" stroke="none" stroke-width="1"/>
<path d="M193.50,305.55 L195.90,305.55 L194.70,307.65 Z" fill="#151515" stroke="none" stroke-width="1"/>
<path d="M193.50,307.50 L195.90,307.50 L194.70,309.60 Z" fill="#151515" stroke="none" stroke-width="1"/>
<rect x="201.00" y="346.45" width="4.80" height="6.65" fill="#e9978b"/>
<line x1="203.40" y1="343.50" x2="203.40" y2="348.80" stroke="#1a1a1a" stroke-width="0.85"/>
<line x1="202.00" y1="343.50" x2="204.80" y2="343.50" stroke="#1a1a1a" stroke-width="0.8"/>
<path d="M202.20,343.40 L204.60,343.40 L203.40,345.50 Z" fill="#151515" stroke="none" stroke-width="1"/>
<path d="M202.20,345.32 L204.60,345.32 L203.40,347.42 Z" fill="#151515" stroke="none" stroke-width="1"/>
<path d="M202.20,346.90 L204.60,346.90 L203.40,349.00 Z" fill="#151515" stroke="none" stroke-width="1"/>
<rect x="215.40" y="305.57" width="4.60" height="47.53" fill="#c4102e"/>
<line x1="217.70" y1="293.50" x2="217.70" y2="316.20" stroke="#1a1a1a" stroke-width="0.85"/>
<line x1="216.30" y1="293.50" x2="219.10" y2="293.50" stroke="#1a1a1a" stroke-width="0.8"/>
<path d="M216.50,293.40 L218.90,293.40 L217.70,295.50 Z" fill="#151515" stroke="none" stroke-width="1"/>
<path d="M216.50,303.95 L218.90,303.95 L217.70,306.05 Z" fill="#151515" stroke="none" stroke-width="1"/>
<path d="M216.50,314.30 L218.90,314.30 L217.70,316.40 Z" fill="#151515" stroke="none" stroke-width="1"/>
<rect x="223.80" y="343.12" width="4.90" height="9.98" fill="#c4102e"/>
<line x1="226.25" y1="342.70" x2="226.25" y2="345.30" stroke="#1a1a1a" stroke-width="0.85"/>
<line x1="224.85" y1="342.70" x2="227.65" y2="342.70" stroke="#1a1a1a" stroke-width="0.8"/>
<path d="M225.05,342.60 L227.45,342.60 L226.25,344.70 Z" fill="#151515" stroke="none" stroke-width="1"/>
<path d="M225.05,342.56 L227.45,342.56 L226.25,344.66 Z" fill="#151515" stroke="none" stroke-width="1"/>
<path d="M225.05,343.40 L227.45,343.40 L226.25,345.50 Z" fill="#151515" stroke="none" stroke-width="1"/>
<line x1="143.50" y1="353.30" x2="231.00" y2="353.30" stroke="#262626" stroke-width="1.0"/>
<line x1="149.15" y1="353.30" x2="149.15" y2="355.90" stroke="#262626" stroke-width="1.0"/>
<line x1="157.60" y1="353.30" x2="157.60" y2="355.90" stroke="#262626" stroke-width="1.0"/>
<line x1="172.25" y1="353.30" x2="172.25" y2="355.90" stroke="#262626" stroke-width="1.0"/>
<line x1="180.70" y1="353.30" x2="180.70" y2="355.90" stroke="#262626" stroke-width="1.0"/>
<line x1="194.70" y1="353.30" x2="194.70" y2="355.90" stroke="#262626" stroke-width="1.0"/>
<line x1="203.40" y1="353.30" x2="203.40" y2="355.90" stroke="#262626" stroke-width="1.0"/>
<line x1="217.70" y1="353.30" x2="217.70" y2="355.90" stroke="#262626" stroke-width="1.0"/>
<line x1="226.25" y1="353.30" x2="226.25" y2="355.90" stroke="#262626" stroke-width="1.0"/>
<polyline points="149.20,289.20 149.20,284.20 157.60,284.20 157.60,290.40" fill="none" stroke="#555" stroke-width="0.7" stroke-linejoin="round"/>
<text x="153.40" y="281.80" font-size="5.8" text-anchor="middle" fill="#333">ns</text>
<polyline points="172.20,293.00 172.20,284.20 180.60,284.20 180.60,347.00" fill="none" stroke="#555" stroke-width="0.7" stroke-linejoin="round"/>
<text x="176.40" y="285.20" font-size="7.2" text-anchor="middle" fill="#222">****</text>
<polyline points="194.60,300.80 194.60,284.20 203.30,284.20 203.30,342.00" fill="none" stroke="#555" stroke-width="0.7" stroke-linejoin="round"/>
<text x="198.95" y="285.20" font-size="7.2" text-anchor="middle" fill="#222">****</text>
<polyline points="217.70,291.00 217.70,284.20 226.30,284.20 226.30,341.00" fill="none" stroke="#555" stroke-width="0.7" stroke-linejoin="round"/>
<text x="222.00" y="285.20" font-size="7.2" text-anchor="middle" fill="#222">****</text>
<text x="188.00" y="270.30" font-size="8.8" text-anchor="middle" fill="#2e2e2e" textLength="22.5" lengthAdjust="spacingAndGlyphs">NTKO</text>
<text x="110.60" y="315.80" font-size="8.2" text-anchor="middle" fill="#2e2e2e" textLength="58" lengthAdjust="spacingAndGlyphs" transform="rotate(-90 110.60 315.80)">%GFP-positive cells</text>
<text x="121.20" y="315.80" font-size="8.2" text-anchor="middle" fill="#2e2e2e" textLength="54" lengthAdjust="spacingAndGlyphs" transform="rotate(-90 121.20 315.80)">(relative to day 3)</text>
<text x="152.45" y="363.40" font-size="7.4" text-anchor="end" fill="#2e2e2e" textLength="15" lengthAdjust="spacingAndGlyphs" transform="rotate(-45 152.45 363.40)">Day 3</text>
<text x="160.90" y="363.40" font-size="7.4" text-anchor="end" fill="#2e2e2e" textLength="18.5" lengthAdjust="spacingAndGlyphs" transform="rotate(-45 160.90 363.40)">Day 10</text>
<text x="175.55" y="363.40" font-size="7.4" text-anchor="end" fill="#2e2e2e" textLength="15" lengthAdjust="spacingAndGlyphs" transform="rotate(-45 175.55 363.40)">Day 3</text>
<text x="184.00" y="363.40" font-size="7.4" text-anchor="end" fill="#2e2e2e" textLength="18.5" lengthAdjust="spacingAndGlyphs" transform="rotate(-45 184.00 363.40)">Day 10</text>
<text x="198.00" y="363.40" font-size="7.4" text-anchor="end" fill="#2e2e2e" textLength="15" lengthAdjust="spacingAndGlyphs" transform="rotate(-45 198.00 363.40)">Day 3</text>
<text x="206.70" y="363.40" font-size="7.4" text-anchor="end" fill="#2e2e2e" textLength="18.5" lengthAdjust="spacingAndGlyphs" transform="rotate(-45 206.70 363.40)">Day 10</text>
<text x="221.00" y="363.40" font-size="7.4" text-anchor="end" fill="#2e2e2e" textLength="15" lengthAdjust="spacingAndGlyphs" transform="rotate(-45 221.00 363.40)">Day 3</text>
<text x="229.55" y="363.40" font-size="7.4" text-anchor="end" fill="#2e2e2e" textLength="18.5" lengthAdjust="spacingAndGlyphs" transform="rotate(-45 229.55 363.40)">Day 10</text>
<rect x="151.90" y="383.05" width="4.30" height="4.30" fill="#3aa83c"/>
<text x="160.20" y="387.70" font-size="7.0" text-anchor="start" fill="#2e2e2e" textLength="20.3" lengthAdjust="spacingAndGlyphs">sgRosa</text>
<rect x="191.40" y="383.05" width="4.30" height="4.30" fill="#c9c9c9"/>
<text x="199.70" y="387.70" font-size="7.0" text-anchor="start" fill="#2e2e2e" textLength="24.7" lengthAdjust="spacingAndGlyphs">sgPCNA</text>
<rect x="151.90" y="393.45" width="4.30" height="4.30" fill="#e9978b"/>
<text x="160.20" y="398.10" font-size="7.0" text-anchor="start" fill="#2e2e2e" textLength="24.2" lengthAdjust="spacingAndGlyphs">sgAK2-1</text>
<rect x="191.40" y="393.45" width="4.30" height="4.30" fill="#c4102e"/>
<text x="199.70" y="398.10" font-size="7.0" text-anchor="start" fill="#2e2e2e" textLength="24.7" lengthAdjust="spacingAndGlyphs">sgAK2-2</text>
<line x1="295.00" y1="279.00" x2="295.00" y2="353.60" stroke="#262626" stroke-width="1.0"/>
<line x1="292.00" y1="353.10" x2="295.00" y2="353.10" stroke="#262626" stroke-width="1.0"/>
<text x="288.40" y="355.51" font-size="6.7" text-anchor="end" fill="#2e2e2e">0</text>
<line x1="292.00" y1="329.33" x2="295.00" y2="329.33" stroke="#262626" stroke-width="1.0"/>
<text x="288.40" y="331.75" font-size="6.7" text-anchor="end" fill="#2e2e2e">50</text>
<line x1="292.00" y1="305.57" x2="295.00" y2="305.57" stroke="#262626" stroke-width="1.0"/>
<text x="288.40" y="307.98" font-size="6.7" text-anchor="end" fill="#2e2e2e">100</text>
<line x1="292.00" y1="281.80" x2="295.00" y2="281.80" stroke="#262626" stroke-width="1.0"/>
<text x="288.40" y="284.21" font-size="6.7" text-anchor="end" fill="#2e2e2e">150</text>
<rect x="298.10" y="306.52" width="4.80" height="46.58" fill="#3aa83c"/>
<line x1="300.50" y1="302.70" x2="300.50" y2="309.40" stroke="#1a1a1a" stroke-width="0.85"/>
<line x1="299.10" y1="302.70" x2="301.90" y2="302.70" stroke="#1a1a1a" stroke-width="0.8"/>
<path d="M299.30,302.60 L301.70,302.60 L300.50,304.70 Z" fill="#151515" stroke="none" stroke-width="1"/>
<path d="M299.30,304.52 L301.70,304.52 L300.50,306.62 Z" fill="#151515" stroke="none" stroke-width="1"/>
<path d="M299.30,307.50 L301.70,307.50 L300.50,309.60 Z" fill="#151515" stroke="none" stroke-width="1"/>
<rect x="306.50" y="309.37" width="4.80" height="43.73" fill="#3aa83c"/>
<line x1="308.90" y1="305.00" x2="308.90" y2="313.30" stroke="#1a1a1a" stroke-width="0.85"/>
<line x1="307.50" y1="305.00" x2="310.30" y2="305.00" stroke="#1a1a1a" stroke-width="0.8"/>
<path d="M307.70,304.90 L310.10,304.90 L308.90,307.00 Z" fill="#151515" stroke="none" stroke-width="1"/>
<path d="M307.70,309.05 L310.10,309.05 L308.90,311.15 Z" fill="#151515" stroke="none" stroke-width="1"/>
<path d="M307.70,311.40 L310.10,311.40 L308.90,313.50 Z" fill="#151515" stroke="none" stroke-width="1"/>
<rect x="320.20" y="306.04" width="4.80" height="47.06" fill="#c9c9c9"/>
<line x1="322.60" y1="299.20" x2="322.60" y2="312.70" stroke="#1a1a1a" stroke-width="0.85"/>
<line x1="321.20" y1="299.20" x2="324.00" y2="299.20" stroke="#1a1a1a" stroke-width="0.8"/>
<path d="M321.40,299.10 L323.80,299.10 L322.60,301.20 Z" fill="#151515" stroke="none" stroke-width="1"/>
<path d="M321.40,305.75 L323.80,305.75 L322.60,307.85 Z" fill="#151515" stroke="none" stroke-width="1"/>
<path d="M321.40,310.80 L323.80,310.80 L322.60,312.90 Z" fill="#151515" stroke="none" stroke-width="1"/>
<rect x="328.80" y="346.45" width="4.60" height="6.65" fill="#d2d2d2"/>
<line x1="331.10" y1="338.80" x2="331.10" y2="349.80" stroke="#1a1a1a" stroke-width="0.85"/>
<line x1="329.70" y1="338.80" x2="332.50" y2="338.80" stroke="#1a1a1a" stroke-width="0.8"/>
<path d="M329.90,338.70 L332.30,338.70 L331.10,340.80 Z" fill="#151515" stroke="none" stroke-width="1"/>
<path d="M329.90,346.02 L332.30,346.02 L331.10,348.12 Z" fill="#151515" stroke="none" stroke-width="1"/>
<path d="M329.90,347.90 L332.30,347.90 L331.10,350.00 Z" fill="#151515" stroke="none" stroke-width="1"/>
<rect x="342.30" y="305.57" width="4.80" height="47.53" fill="#a9d0ef"/>
<line x1="344.70" y1="302.70" x2="344.70" y2="308.50" stroke="#1a1a1a" stroke-width="0.85"/>
<line x1="343.30" y1="302.70" x2="346.10" y2="302.70" stroke="#1a1a1a" stroke-width="0.8"/>
<path d="M343.50,302.60 L345.90,302.60 L344.70,304.70 Z" fill="#151515" stroke="none" stroke-width="1"/>
<path d="M343.50,304.42 L345.90,304.42 L344.70,306.52 Z" fill="#151515" stroke="none" stroke-width="1"/>
<path d="M343.50,306.60 L345.90,306.60 L344.70,308.70 Z" fill="#151515" stroke="none" stroke-width="1"/>
<rect x="350.50" y="316.97" width="4.80" height="36.13" fill="#a9d0ef"/>
<line x1="352.90" y1="314.60" x2="352.90" y2="318.00" stroke="#1a1a1a" stroke-width="0.85"/>
<line x1="351.50" y1="314.60" x2="354.30" y2="314.60" stroke="#1a1a1a" stroke-width="0.8"/>
<path d="M351.70,314.50 L354.10,314.50 L352.90,316.60 Z" fill="#151515" stroke="none" stroke-width="1"/>
<path d="M351.70,315.54 L354.10,315.54 L352.90,317.64 Z" fill="#151515" stroke="none" stroke-width="1"/>
<path d="M351.70,316.10 L354.10,316.10 L352.90,318.20 Z" fill="#151515" stroke="none" stroke-width="1"/>
<rect x="364.20" y="305.57" width="4.80" height="47.53" fill="#2a9fd6"/>
<line x1="366.60" y1="303.00" x2="366.60" y2="307.50" stroke="#1a1a1a" stroke-width="0.85"/>
<line x1="365.20" y1="303.00" x2="368.00" y2="303.00" stroke="#1a1a1a" stroke-width="0.8"/>
<path d="M365.40,302.90 L367.80,302.90 L366.60,305.00 Z" fill="#151515" stroke="none" stroke-width="1"/>
<path d="M365.40,304.89 L367.80,304.89 L366.60,306.99 Z" fill="#151515" stroke="none" stroke-width="1"/>
<path d="M365.40,305.60 L367.80,305.60 L366.60,307.70 Z" fill="#151515" stroke="none" stroke-width="1"/>
<rect x="372.50" y="318.88" width="4.80" height="34.22" fill="#2a9fd6"/>
<line x1="374.90" y1="311.30" x2="374.90" y2="324.80" stroke="#1a1a1a" stroke-width="0.85"/>
<line x1="373.50" y1="311.30" x2="376.30" y2="311.30" stroke="#1a1a1a" stroke-width="0.8"/>
<path d="M373.70,311.20 L376.10,311.20 L374.90,313.30 Z" fill="#151515" stroke="none" stroke-width="1"/>
<path d="M373.70,317.91 L376.10,317.91 L374.90,320.01 Z" fill="#151515" stroke="none" stroke-width="1"/>
<path d="M373.70,322.90 L376.10,322.90 L374.90,325.00 Z" fill="#151515" stroke="none" stroke-width="1"/>
<line x1="295.00" y1="353.30" x2="381.00" y2="353.30" stroke="#262626" stroke-width="1.0"/>
<line x1="300.50" y1="353.30" x2="300.50" y2="355.90" stroke="#262626" stroke-width="1.0"/>
<line x1="308.90" y1="353.30" x2="308.90" y2="355.90" stroke="#262626" stroke-width="1.0"/>
<line x1="322.60" y1="353.30" x2="322.60" y2="355.90" stroke="#262626" stroke-width="1.0"/>
<line x1="331.10" y1="353.30" x2="331.10" y2="355.90" stroke="#262626" stroke-width="1.0"/>
<line x1="344.70" y1="353.30" x2="344.70" y2="355.90" stroke="#262626" stroke-width="1.0"/>
<line x1="352.90" y1="353.30" x2="352.90" y2="355.90" stroke="#262626" stroke-width="1.0"/>
<line x1="366.60" y1="353.30" x2="366.60" y2="355.90" stroke="#262626" stroke-width="1.0"/>
<line x1="374.90" y1="353.30" x2="374.90" y2="355.90" stroke="#262626" stroke-width="1.0"/>
<polyline points="300.50,300.80 300.50,290.80 309.00,290.80 309.00,303.60" fill="none" stroke="#555" stroke-width="0.7" stroke-linejoin="round"/>
<text x="304.75" y="288.40" font-size="5.8" text-anchor="middle" fill="#333">ns</text>
<polyline points="322.60,297.90 322.60,290.80 330.90,290.80 330.90,337.30" fill="none" stroke="#555" stroke-width="0.7" stroke-linejoin="round"/>
<text x="326.75" y="291.80" font-size="7.2" text-anchor="middle" fill="#222">****</text>
<polyline points="344.70,301.70 344.70,290.80 352.80,290.80 352.80,313.30" fill="none" stroke="#555" stroke-width="0.7" stroke-linejoin="round"/>
<text x="348.75" y="291.80" font-size="7.2" text-anchor="middle" fill="#222">**</text>
<polyline points="366.60,301.70 366.60,290.80 374.80,290.80 374.80,309.40" fill="none" stroke="#555" stroke-width="0.7" stroke-linejoin="round"/>
<text x="370.70" y="291.80" font-size="7.2" text-anchor="middle" fill="#222">**</text>
<text x="338.50" y="270.30" font-size="8.8" text-anchor="middle" fill="#2e2e2e" textLength="16.5" lengthAdjust="spacingAndGlyphs">TKO</text>
<text x="262.00" y="316.00" font-size="8.2" text-anchor="middle" fill="#2e2e2e" textLength="58" lengthAdjust="spacingAndGlyphs" transform="rotate(-90 262.00 316.00)">%GFP-positive cells</text>
<text x="272.80" y="316.00" font-size="8.2" text-anchor="middle" fill="#2e2e2e" textLength="54" lengthAdjust="spacingAndGlyphs" transform="rotate(-90 272.80 316.00)">(relative to day 3)</text>
<text x="303.80" y="363.40" font-size="7.4" text-anchor="end" fill="#2e2e2e" textLength="15" lengthAdjust="spacingAndGlyphs" transform="rotate(-45 303.80 363.40)">Day 3</text>
<text x="312.20" y="363.40" font-size="7.4" text-anchor="end" fill="#2e2e2e" textLength="18.5" lengthAdjust="spacingAndGlyphs" transform="rotate(-45 312.20 363.40)">Day 10</text>
<text x="325.90" y="363.40" font-size="7.4" text-anchor="end" fill="#2e2e2e" textLength="15" lengthAdjust="spacingAndGlyphs" transform="rotate(-45 325.90 363.40)">Day 3</text>
<text x="334.40" y="363.40" font-size="7.4" text-anchor="end" fill="#2e2e2e" textLength="18.5" lengthAdjust="spacingAndGlyphs" transform="rotate(-45 334.40 363.40)">Day 10</text>
<text x="348.00" y="363.40" font-size="7.4" text-anchor="end" fill="#2e2e2e" textLength="15" lengthAdjust="spacingAndGlyphs" transform="rotate(-45 348.00 363.40)">Day 3</text>
<text x="356.20" y="363.40" font-size="7.4" text-anchor="end" fill="#2e2e2e" textLength="18.5" lengthAdjust="spacingAndGlyphs" transform="rotate(-45 356.20 363.40)">Day 10</text>
<text x="369.90" y="363.40" font-size="7.4" text-anchor="end" fill="#2e2e2e" textLength="15" lengthAdjust="spacingAndGlyphs" transform="rotate(-45 369.90 363.40)">Day 3</text>
<text x="378.20" y="363.40" font-size="7.4" text-anchor="end" fill="#2e2e2e" textLength="18.5" lengthAdjust="spacingAndGlyphs" transform="rotate(-45 378.20 363.40)">Day 10</text>
<rect x="302.40" y="383.15" width="4.30" height="4.30" fill="#3aa83c"/>
<text x="309.80" y="387.80" font-size="7.0" text-anchor="start" fill="#2e2e2e" textLength="20.4" lengthAdjust="spacingAndGlyphs">sgRosa</text>
<rect x="341.60" y="383.15" width="4.30" height="4.30" fill="#c9c9c9"/>
<text x="348.90" y="387.80" font-size="7.0" text-anchor="start" fill="#2e2e2e" textLength="24.5" lengthAdjust="spacingAndGlyphs">sgPCNA</text>
<rect x="302.40" y="393.25" width="4.30" height="4.30" fill="#a9d0ef"/>
<text x="309.80" y="397.90" font-size="7.0" text-anchor="start" fill="#2e2e2e" textLength="24.5" lengthAdjust="spacingAndGlyphs">sgAK2-1</text>
<rect x="341.60" y="393.25" width="4.30" height="4.30" fill="#2a9fd6"/>
<text x="348.90" y="397.90" font-size="7.0" text-anchor="start" fill="#2e2e2e" textLength="24.5" lengthAdjust="spacingAndGlyphs">sgAK2-2</text>
<text x="404.50" y="269.80" font-size="11.9" text-anchor="start" fill="#141414" font-weight="bold">H</text>
<line x1="444.10" y1="279.50" x2="444.10" y2="353.40" stroke="#262626" stroke-width="1.0"/>
<line x1="441.10" y1="352.90" x2="444.10" y2="352.90" stroke="#262626" stroke-width="1.0"/>
<text x="437.50" y="355.31" font-size="6.7" text-anchor="end" fill="#2e2e2e">0</text>
<line x1="441.10" y1="341.05" x2="444.10" y2="341.05" stroke="#262626" stroke-width="1.0"/>
<text x="437.50" y="343.46" font-size="6.7" text-anchor="end" fill="#2e2e2e">20</text>
<line x1="441.10" y1="329.20" x2="444.10" y2="329.20" stroke="#262626" stroke-width="1.0"/>
<text x="437.50" y="331.61" font-size="6.7" text-anchor="end" fill="#2e2e2e">40</text>
<line x1="441.10" y1="317.35" x2="444.10" y2="317.35" stroke="#262626" stroke-width="1.0"/>
<text x="437.50" y="319.76" font-size="6.7" text-anchor="end" fill="#2e2e2e">60</text>
<line x1="441.10" y1="305.50" x2="444.10" y2="305.50" stroke="#262626" stroke-width="1.0"/>
<text x="437.50" y="307.91" font-size="6.7" text-anchor="end" fill="#2e2e2e">80</text>
<line x1="441.10" y1="293.65" x2="444.10" y2="293.65" stroke="#262626" stroke-width="1.0"/>
<text x="437.50" y="296.06" font-size="6.7" text-anchor="end" fill="#2e2e2e">100</text>
<line x1="441.10" y1="281.80" x2="444.10" y2="281.80" stroke="#262626" stroke-width="1.0"/>
<text x="437.50" y="284.21" font-size="6.7" text-anchor="end" fill="#2e2e2e">120</text>
<rect x="447.30" y="294.84" width="5.80" height="58.06" fill="#c4102e"/>
<line x1="450.20" y1="291.00" x2="450.20" y2="297.50" stroke="#1a1a1a" stroke-width="0.85"/>
<line x1="448.80" y1="291.00" x2="451.60" y2="291.00" stroke="#1a1a1a" stroke-width="0.8"/>
<path d="M449.00,290.90 L451.40,290.90 L450.20,293.00 Z" fill="#151515" stroke="none" stroke-width="1"/>
<path d="M449.00,295.60 L451.40,295.60 L450.20,297.70 Z" fill="#151515" stroke="none" stroke-width="1"/>
<rect x="456.00" y="344.60" width="5.80" height="8.30" fill="#c4102e"/>
<line x1="458.90" y1="341.50" x2="458.90" y2="346.50" stroke="#1a1a1a" stroke-width="0.85"/>
<line x1="457.50" y1="341.50" x2="460.30" y2="341.50" stroke="#1a1a1a" stroke-width="0.8"/>
<path d="M457.70,341.40 L460.10,341.40 L458.90,343.50 Z" fill="#151515" stroke="none" stroke-width="1"/>
<path d="M457.70,344.60 L460.10,344.60 L458.90,346.70 Z" fill="#151515" stroke="none" stroke-width="1"/>
<rect x="471.00" y="294.24" width="5.90" height="58.66" fill="#2ea6dc"/>
<line x1="473.95" y1="291.50" x2="473.95" y2="296.50" stroke="#1a1a1a" stroke-width="0.85"/>
<line x1="472.55" y1="291.50" x2="475.35" y2="291.50" stroke="#1a1a1a" stroke-width="0.8"/>
<path d="M472.75,291.40 L475.15,291.40 L473.95,293.50 Z" fill="#151515" stroke="none" stroke-width="1"/>
<path d="M472.75,294.60 L475.15,294.60 L473.95,296.70 Z" fill="#151515" stroke="none" stroke-width="1"/>
<rect x="479.60" y="308.46" width="6.20" height="44.44" fill="#2ea6dc"/>
<line x1="482.70" y1="303.80" x2="482.70" y2="308.50" stroke="#1a1a1a" stroke-width="0.85"/>
<line x1="481.30" y1="303.80" x2="484.10" y2="303.80" stroke="#1a1a1a" stroke-width="0.8"/>
<path d="M481.50,303.70 L483.90,303.70 L482.70,305.80 Z" fill="#151515" stroke="none" stroke-width="1"/>
<path d="M481.50,306.60 L483.90,306.60 L482.70,308.70 Z" fill="#151515" stroke="none" stroke-width="1"/>
<rect x="495.30" y="294.84" width="5.70" height="58.06" fill="#5a2a6a"/>
<line x1="498.15" y1="287.50" x2="498.15" y2="301.50" stroke="#1a1a1a" stroke-width="0.85"/>
<line x1="496.75" y1="287.50" x2="499.55" y2="287.50" stroke="#1a1a1a" stroke-width="0.8"/>
<path d="M496.95,287.40 L499.35,287.40 L498.15,289.50 Z" fill="#151515" stroke="none" stroke-width="1"/>
<path d="M496.95,299.60 L499.35,299.60 L498.15,301.70 Z" fill="#151515" stroke="none" stroke-width="1"/>
<rect x="503.90" y="332.16" width="6.10" height="20.74" fill="#5a2a6a"/>
<line x1="506.95" y1="322.70" x2="506.95" y2="338.00" stroke="#1a1a1a" stroke-width="0.85"/>
<line x1="505.55" y1="322.70" x2="508.35" y2="322.70" stroke="#1a1a1a" stroke-width="0.8"/>
<path d="M505.75,322.60 L508.15,322.60 L506.95,324.70 Z" fill="#151515" stroke="none" stroke-width="1"/>
<path d="M505.75,336.10 L508.15,336.10 L506.95,338.20 Z" fill="#151515" stroke="none" stroke-width="1"/>
<line x1="444.10" y1="353.20" x2="512.50" y2="353.20" stroke="#262626" stroke-width="1.0"/>
<line x1="450.20" y1="353.20" x2="450.20" y2="355.80" stroke="#262626" stroke-width="1.0"/>
<line x1="458.90" y1="353.20" x2="458.90" y2="355.80" stroke="#262626" stroke-width="1.0"/>
<line x1="473.95" y1="353.20" x2="473.95" y2="355.80" stroke="#262626" stroke-width="1.0"/>
<line x1="482.70" y1="353.20" x2="482.70" y2="355.80" stroke="#262626" stroke-width="1.0"/>
<line x1="498.15" y1="353.20" x2="498.15" y2="355.80" stroke="#262626" stroke-width="1.0"/>
<line x1="506.95" y1="353.20" x2="506.95" y2="355.80" stroke="#262626" stroke-width="1.0"/>
<polyline points="459.20,340.50 459.20,284.50 480.40,284.50 480.40,303.50" fill="none" stroke="#555" stroke-width="0.7" stroke-linejoin="round"/>
<text x="469.80" y="285.50" font-size="7.2" text-anchor="middle" fill="#222">****</text>
<polyline points="484.10,303.50 484.10,284.50 507.40,284.50 507.40,322.00" fill="none" stroke="#555" stroke-width="0.7" stroke-linejoin="round"/>
<text x="496.00" y="285.50" font-size="7.2" text-anchor="middle" fill="#222">**</text>
<text x="411.30" y="315.50" font-size="8.2" text-anchor="middle" fill="#2e2e2e" textLength="33.7" lengthAdjust="spacingAndGlyphs" transform="rotate(-90 411.30 315.50)">% GFP cells</text>
<text x="422.30" y="315.60" font-size="8.2" text-anchor="middle" fill="#2e2e2e" textLength="53.4" lengthAdjust="spacingAndGlyphs" transform="rotate(-90 422.30 315.60)">(relative to day 3)</text>
<text x="453.50" y="363.40" font-size="7.4" text-anchor="end" fill="#2e2e2e" textLength="15" lengthAdjust="spacingAndGlyphs" transform="rotate(-45 453.50 363.40)">Day 3</text>
<text x="462.20" y="363.40" font-size="7.4" text-anchor="end" fill="#2e2e2e" textLength="18.5" lengthAdjust="spacingAndGlyphs" transform="rotate(-45 462.20 363.40)">Day 10</text>
<text x="477.25" y="363.40" font-size="7.4" text-anchor="end" fill="#2e2e2e" textLength="15" lengthAdjust="spacingAndGlyphs" transform="rotate(-45 477.25 363.40)">Day 3</text>
<text x="486.00" y="363.40" font-size="7.4" text-anchor="end" fill="#2e2e2e" textLength="18.5" lengthAdjust="spacingAndGlyphs" transform="rotate(-45 486.00 363.40)">Day 10</text>
<text x="501.45" y="363.40" font-size="7.4" text-anchor="end" fill="#2e2e2e" textLength="15" lengthAdjust="spacingAndGlyphs" transform="rotate(-45 501.45 363.40)">Day 3</text>
<text x="510.25" y="363.40" font-size="7.4" text-anchor="end" fill="#2e2e2e" textLength="18.5" lengthAdjust="spacingAndGlyphs" transform="rotate(-45 510.25 363.40)">Day 10</text>
<rect x="457.40" y="382.55" width="4.30" height="4.30" fill="#c4102e"/>
<text x="464.80" y="387.20" font-size="7.0" text-anchor="start" fill="#2e2e2e" textLength="18.2" lengthAdjust="spacingAndGlyphs">NTKO</text>
<rect x="457.40" y="392.75" width="4.30" height="4.30" fill="#2ea6dc"/>
<text x="464.80" y="397.40" font-size="7.0" text-anchor="start" fill="#2e2e2e" textLength="13" lengthAdjust="spacingAndGlyphs">TKO</text>
<rect x="457.40" y="403.15" width="4.30" height="4.30" fill="#5a2a6a"/>
<text x="464.80" y="407.80" font-size="7.0" text-anchor="start" fill="#2e2e2e" textLength="35" lengthAdjust="spacingAndGlyphs">TKO+NSD2</text>
<text x="7.60" y="428.30" font-size="11.9" text-anchor="start" fill="#141414" font-weight="bold">I</text>
<line x1="33.80" y1="433.50" x2="33.80" y2="513.70" stroke="#262626" stroke-width="1.0"/>
<line x1="30.80" y1="513.20" x2="33.80" y2="513.20" stroke="#262626" stroke-width="1.0"/>
<text x="27.20" y="515.61" font-size="6.7" text-anchor="end" fill="#2e2e2e">0.0</text>
<line x1="30.80" y1="500.30" x2="33.80" y2="500.30" stroke="#262626" stroke-width="1.0"/>
<text x="27.20" y="502.71" font-size="6.7" text-anchor="end" fill="#2e2e2e">0.2</text>
<line x1="30.80" y1="487.40" x2="33.80" y2="487.40" stroke="#262626" stroke-width="1.0"/>
<text x="27.20" y="489.81" font-size="6.7" text-anchor="end" fill="#2e2e2e">0.4</text>
<line x1="30.80" y1="474.50" x2="33.80" y2="474.50" stroke="#262626" stroke-width="1.0"/>
<text x="27.20" y="476.91" font-size="6.7" text-anchor="end" fill="#2e2e2e">0.6</text>
<line x1="30.80" y1="461.60" x2="33.80" y2="461.60" stroke="#262626" stroke-width="1.0"/>
<text x="27.20" y="464.01" font-size="6.7" text-anchor="end" fill="#2e2e2e">0.8</text>
<line x1="30.80" y1="448.70" x2="33.80" y2="448.70" stroke="#262626" stroke-width="1.0"/>
<text x="27.20" y="451.11" font-size="6.7" text-anchor="end" fill="#2e2e2e">1.0</text>
<line x1="30.80" y1="435.80" x2="33.80" y2="435.80" stroke="#262626" stroke-width="1.0"/>
<text x="27.20" y="438.21" font-size="6.7" text-anchor="end" fill="#2e2e2e">1.2</text>
<rect x="40.80" y="448.70" width="10.60" height="64.50" fill="#f08c0a"/>
<rect x="57.50" y="480.95" width="10.60" height="32.25" fill="#9cb86e"/>
<line x1="46.10" y1="439.60" x2="46.10" y2="455.50" stroke="#1a1a1a" stroke-width="0.85"/>
<line x1="44.30" y1="439.60" x2="47.90" y2="439.60" stroke="#1a1a1a" stroke-width="0.8"/>
<line x1="62.80" y1="473.50" x2="62.80" y2="486.60" stroke="#1a1a1a" stroke-width="0.85"/>
<line x1="61.00" y1="473.50" x2="64.60" y2="473.50" stroke="#1a1a1a" stroke-width="0.8"/>
<path d="M44.90,445.00 L47.30,445.00 L46.10,447.10 Z" fill="#151515" stroke="none" stroke-width="1"/>
<path d="M44.90,451.00 L47.30,451.00 L46.10,453.10 Z" fill="#151515" stroke="none" stroke-width="1"/>
<path d="M44.90,448.00 L47.30,448.00 L46.10,450.10 Z" fill="#151515" stroke="none" stroke-width="1"/>
<path d="M61.60,474.50 L64.00,474.50 L62.80,476.60 Z" fill="#151515" stroke="none" stroke-width="1"/>
<path d="M61.60,478.00 L64.00,478.00 L62.80,480.10 Z" fill="#151515" stroke="none" stroke-width="1"/>
<path d="M61.60,483.00 L64.00,483.00 L62.80,485.10 Z" fill="#151515" stroke="none" stroke-width="1"/>
<line x1="33.80" y1="513.50" x2="73.60" y2="513.50" stroke="#262626" stroke-width="1.0"/>
<line x1="46.10" y1="513.50" x2="46.10" y2="516.10" stroke="#262626" stroke-width="1.0"/>
<line x1="62.80" y1="513.50" x2="62.80" y2="516.10" stroke="#262626" stroke-width="1.0"/>
<polyline points="46.10,438.60 46.10,435.40 63.00,435.40 63.00,473.00" fill="none" stroke="#555" stroke-width="0.7" stroke-linejoin="round"/>
<text x="54.60" y="436.40" font-size="7.2" text-anchor="middle" fill="#222">**</text>
<text x="14.30" y="473.40" font-size="8.2" text-anchor="middle" fill="#2e2e2e" textLength="46.5" lengthAdjust="spacingAndGlyphs" transform="rotate(-90 14.30 473.40)">NTKO/TKO ratio</text>
<text x="49.50" y="522.30" font-size="7.0" text-anchor="end" fill="#2e2e2e" textLength="19" lengthAdjust="spacingAndGlyphs" transform="rotate(-45 49.50 522.30)">DMSO</text>
<text x="66.50" y="522.30" font-size="7.0" text-anchor="end" fill="#2e2e2e" textLength="41" lengthAdjust="spacingAndGlyphs" transform="rotate(-45 66.50 522.30)">ApSA (50 μM)</text>
<text x="89.60" y="428.30" font-size="11.9" text-anchor="start" fill="#141414" font-weight="bold">J</text>
<line x1="119.50" y1="441.00" x2="119.50" y2="513.60" stroke="#262626" stroke-width="1.0"/>
<line x1="116.50" y1="513.10" x2="119.50" y2="513.10" stroke="#262626" stroke-width="1.0"/>
<text x="112.90" y="515.51" font-size="6.7" text-anchor="end" fill="#2e2e2e">0</text>
<line x1="116.50" y1="501.48" x2="119.50" y2="501.48" stroke="#262626" stroke-width="1.0"/>
<text x="112.90" y="503.90" font-size="6.7" text-anchor="end" fill="#2e2e2e">20</text>
<line x1="116.50" y1="489.87" x2="119.50" y2="489.87" stroke="#262626" stroke-width="1.0"/>
<text x="112.90" y="492.28" font-size="6.7" text-anchor="end" fill="#2e2e2e">40</text>
<line x1="116.50" y1="478.25" x2="119.50" y2="478.25" stroke="#262626" stroke-width="1.0"/>
<text x="112.90" y="480.66" font-size="6.7" text-anchor="end" fill="#2e2e2e">60</text>
<line x1="116.50" y1="466.63" x2="119.50" y2="466.63" stroke="#262626" stroke-width="1.0"/>
<text x="112.90" y="469.05" font-size="6.7" text-anchor="end" fill="#2e2e2e">80</text>
<line x1="116.50" y1="455.02" x2="119.50" y2="455.02" stroke="#262626" stroke-width="1.0"/>
<text x="112.90" y="457.43" font-size="6.7" text-anchor="end" fill="#2e2e2e">100</text>
<line x1="116.50" y1="443.40" x2="119.50" y2="443.40" stroke="#262626" stroke-width="1.0"/>
<text x="112.90" y="445.81" font-size="6.7" text-anchor="end" fill="#2e2e2e">120</text>
<rect x="122.80" y="455.02" width="5.30" height="58.08" fill="#3aa83c"/>
<line x1="123.20" y1="455.02" x2="127.70" y2="455.02" stroke="#111" stroke-width="1.2"/>
<rect x="131.50" y="459.08" width="5.30" height="54.02" fill="#3aa83c"/>
<line x1="134.15" y1="456.00" x2="134.15" y2="460.00" stroke="#1a1a1a" stroke-width="0.85"/>
<line x1="132.75" y1="456.00" x2="135.55" y2="456.00" stroke="#1a1a1a" stroke-width="0.8"/>
<path d="M132.95,457.85 L135.35,457.85 L134.15,459.95 Z" fill="#151515" stroke="none" stroke-width="1"/>
<path d="M132.95,457.60 L135.35,457.60 L134.15,459.70 Z" fill="#151515" stroke="none" stroke-width="1"/>
<rect x="146.10" y="455.02" width="5.10" height="58.08" fill="#c4102e"/>
<line x1="146.50" y1="455.02" x2="150.80" y2="455.02" stroke="#111" stroke-width="1.2"/>
<rect x="154.60" y="495.68" width="5.10" height="17.43" fill="#c4102e"/>
<line x1="157.15" y1="488.80" x2="157.15" y2="501.50" stroke="#1a1a1a" stroke-width="0.85"/>
<line x1="155.75" y1="488.80" x2="158.55" y2="488.80" stroke="#1a1a1a" stroke-width="0.8"/>
<path d="M155.95,494.49 L158.35,494.49 L157.15,496.59 Z" fill="#151515" stroke="none" stroke-width="1"/>
<path d="M155.95,495.17 L158.35,495.17 L157.15,497.27 Z" fill="#151515" stroke="none" stroke-width="1"/>
<rect x="169.20" y="455.02" width="5.00" height="58.08" fill="#c9c9c9"/>
<line x1="169.60" y1="455.02" x2="173.80" y2="455.02" stroke="#111" stroke-width="1.2"/>
<rect x="177.70" y="457.92" width="5.30" height="55.18" fill="#c9c9c9"/>
<line x1="180.35" y1="454.70" x2="180.35" y2="461.20" stroke="#1a1a1a" stroke-width="0.85"/>
<line x1="178.95" y1="454.70" x2="181.75" y2="454.70" stroke="#1a1a1a" stroke-width="0.8"/>
<path d="M179.15,457.90 L181.55,457.90 L180.35,460.00 Z" fill="#151515" stroke="none" stroke-width="1"/>
<path d="M179.15,458.13 L181.55,458.13 L180.35,460.23 Z" fill="#151515" stroke="none" stroke-width="1"/>
<rect x="192.20" y="455.02" width="5.10" height="58.08" fill="#2aa3dc"/>
<line x1="192.60" y1="455.02" x2="196.90" y2="455.02" stroke="#111" stroke-width="1.2"/>
<rect x="200.80" y="471.28" width="5.10" height="41.82" fill="#2aa3dc"/>
<line x1="203.35" y1="461.20" x2="203.35" y2="480.80" stroke="#1a1a1a" stroke-width="0.85"/>
<line x1="201.95" y1="461.20" x2="204.75" y2="461.20" stroke="#1a1a1a" stroke-width="0.8"/>
<path d="M202.15,469.27 L204.55,469.27 L203.35,471.37 Z" fill="#151515" stroke="none" stroke-width="1"/>
<path d="M202.15,469.67 L204.55,469.67 L203.35,471.77 Z" fill="#151515" stroke="none" stroke-width="1"/>
<line x1="119.50" y1="513.40" x2="206.50" y2="513.40" stroke="#262626" stroke-width="1.0"/>
<line x1="125.45" y1="513.40" x2="125.45" y2="516.00" stroke="#262626" stroke-width="1.0"/>
<line x1="134.15" y1="513.40" x2="134.15" y2="516.00" stroke="#262626" stroke-width="1.0"/>
<line x1="148.65" y1="513.40" x2="148.65" y2="516.00" stroke="#262626" stroke-width="1.0"/>
<line x1="157.15" y1="513.40" x2="157.15" y2="516.00" stroke="#262626" stroke-width="1.0"/>
<line x1="171.70" y1="513.40" x2="171.70" y2="516.00" stroke="#262626" stroke-width="1.0"/>
<line x1="180.35" y1="513.40" x2="180.35" y2="516.00" stroke="#262626" stroke-width="1.0"/>
<line x1="194.75" y1="513.40" x2="194.75" y2="516.00" stroke="#262626" stroke-width="1.0"/>
<line x1="203.35" y1="513.40" x2="203.35" y2="516.00" stroke="#262626" stroke-width="1.0"/>
<polyline points="157.00,488.40 157.00,442.20 203.30,442.20 203.30,458.80" fill="none" stroke="#555" stroke-width="0.7" stroke-linejoin="round"/>
<text x="180.00" y="443.20" font-size="7.2" text-anchor="middle" fill="#222">**</text>
<text x="164.50" y="429.20" font-size="8.8" text-anchor="middle" fill="#2e2e2e" textLength="26.5" lengthAdjust="spacingAndGlyphs">KMS34</text>
<text x="96.50" y="477.30" font-size="8.2" text-anchor="middle" fill="#2e2e2e" textLength="60" lengthAdjust="spacingAndGlyphs" transform="rotate(-90 96.50 477.30)">% GFP-positive cells</text>
<text x="128.75" y="524.20" font-size="7.4" text-anchor="end" fill="#2e2e2e" textLength="15" lengthAdjust="spacingAndGlyphs" transform="rotate(-45 128.75 524.20)">Day 2</text>
<text x="137.45" y="524.20" font-size="7.4" text-anchor="end" fill="#2e2e2e" textLength="18.5" lengthAdjust="spacingAndGlyphs" transform="rotate(-45 137.45 524.20)">Day 10</text>
<text x="151.95" y="524.20" font-size="7.4" text-anchor="end" fill="#2e2e2e" textLength="15" lengthAdjust="spacingAndGlyphs" transform="rotate(-45 151.95 524.20)">Day 2</text>
<text x="160.45" y="524.20" font-size="7.4" text-anchor="end" fill="#2e2e2e" textLength="18.5" lengthAdjust="spacingAndGlyphs" transform="rotate(-45 160.45 524.20)">Day 10</text>
<text x="175.00" y="524.20" font-size="7.4" text-anchor="end" fill="#2e2e2e" textLength="15" lengthAdjust="spacingAndGlyphs" transform="rotate(-45 175.00 524.20)">Day 2</text>
<text x="183.65" y="524.20" font-size="7.4" text-anchor="end" fill="#2e2e2e" textLength="18.5" lengthAdjust="spacingAndGlyphs" transform="rotate(-45 183.65 524.20)">Day 10</text>
<text x="198.05" y="524.20" font-size="7.4" text-anchor="end" fill="#2e2e2e" textLength="15" lengthAdjust="spacingAndGlyphs" transform="rotate(-45 198.05 524.20)">Day 2</text>
<text x="206.65" y="524.20" font-size="7.4" text-anchor="end" fill="#2e2e2e" textLength="18.5" lengthAdjust="spacingAndGlyphs" transform="rotate(-45 206.65 524.20)">Day 10</text>
<rect x="216.10" y="459.05" width="4.30" height="4.30" fill="#3aa83c"/>
<text x="223.80" y="463.70" font-size="7.0" text-anchor="start" fill="#2e2e2e" textLength="38.5" lengthAdjust="spacingAndGlyphs">sgNT/sgRosa</text>
<rect x="216.10" y="469.15" width="4.30" height="4.30" fill="#c9c9c9"/>
<text x="223.80" y="473.80" font-size="7.0" text-anchor="start" fill="#2e2e2e" textLength="47" lengthAdjust="spacingAndGlyphs">sgNSD2/sgRosa</text>
<rect x="216.10" y="479.25" width="4.30" height="4.30" fill="#c4102e"/>
<text x="223.80" y="483.90" font-size="7.0" text-anchor="start" fill="#2e2e2e" textLength="36.5" lengthAdjust="spacingAndGlyphs">sgNT/sgAK2</text>
<rect x="216.10" y="489.35" width="4.30" height="4.30" fill="#2aa3dc"/>
<text x="223.80" y="494.00" font-size="7.0" text-anchor="start" fill="#2e2e2e" textLength="45.5" lengthAdjust="spacingAndGlyphs">sgNSD2/sgAK2</text>
<text x="286.50" y="428.30" font-size="11.9" text-anchor="start" fill="#141414" font-weight="bold">K</text>
<line x1="327.30" y1="438.00" x2="327.30" y2="513.60" stroke="#262626" stroke-width="1.0"/>
<line x1="324.30" y1="513.10" x2="327.30" y2="513.10" stroke="#262626" stroke-width="1.0"/>
<text x="320.70" y="515.51" font-size="6.7" text-anchor="end" fill="#2e2e2e">0</text>
<line x1="324.30" y1="500.98" x2="327.30" y2="500.98" stroke="#262626" stroke-width="1.0"/>
<text x="320.70" y="503.40" font-size="6.7" text-anchor="end" fill="#2e2e2e">20</text>
<line x1="324.30" y1="488.87" x2="327.30" y2="488.87" stroke="#262626" stroke-width="1.0"/>
<text x="320.70" y="491.28" font-size="6.7" text-anchor="end" fill="#2e2e2e">40</text>
<line x1="324.30" y1="476.75" x2="327.30" y2="476.75" stroke="#262626" stroke-width="1.0"/>
<text x="320.70" y="479.16" font-size="6.7" text-anchor="end" fill="#2e2e2e">60</text>
<line x1="324.30" y1="464.63" x2="327.30" y2="464.63" stroke="#262626" stroke-width="1.0"/>
<text x="320.70" y="467.05" font-size="6.7" text-anchor="end" fill="#2e2e2e">80</text>
<line x1="324.30" y1="452.52" x2="327.30" y2="452.52" stroke="#262626" stroke-width="1.0"/>
<text x="320.70" y="454.93" font-size="6.7" text-anchor="end" fill="#2e2e2e">100</text>
<line x1="324.30" y1="440.40" x2="327.30" y2="440.40" stroke="#262626" stroke-width="1.0"/>
<text x="320.70" y="442.81" font-size="6.7" text-anchor="end" fill="#2e2e2e">120</text>
<rect x="329.60" y="452.52" width="5.80" height="60.58" fill="#c4102e"/>
<line x1="329.90" y1="452.52" x2="335.10" y2="452.52" stroke="#111" stroke-width="1.2"/>
<rect x="338.80" y="482.81" width="5.40" height="30.29" fill="#c4102e"/>
<line x1="341.50" y1="479.60" x2="341.50" y2="484.20" stroke="#1a1a1a" stroke-width="0.85"/>
<line x1="340.10" y1="479.60" x2="342.90" y2="479.60" stroke="#1a1a1a" stroke-width="0.8"/>
<path d="M340.30,481.58 L342.70,481.58 L341.50,483.68 Z" fill="#151515" stroke="none" stroke-width="1"/>
<path d="M340.30,482.06 L342.70,482.06 L341.50,484.16 Z" fill="#151515" stroke="none" stroke-width="1"/>
<rect x="346.90" y="504.01" width="5.30" height="9.09" fill="#c4102e"/>
<line x1="349.55" y1="499.20" x2="349.55" y2="507.30" stroke="#1a1a1a" stroke-width="0.85"/>
<line x1="348.15" y1="499.20" x2="350.95" y2="499.20" stroke="#1a1a1a" stroke-width="0.8"/>
<path d="M348.35,502.40 L350.75,502.40 L349.55,504.50 Z" fill="#151515" stroke="none" stroke-width="1"/>
<path d="M348.35,501.79 L350.75,501.79 L349.55,503.89 Z" fill="#151515" stroke="none" stroke-width="1"/>
<rect x="361.20" y="452.52" width="5.60" height="60.58" fill="#e9978b"/>
<line x1="364.00" y1="441.50" x2="364.00" y2="463.50" stroke="#1a1a1a" stroke-width="0.85"/>
<line x1="362.60" y1="441.50" x2="365.40" y2="441.50" stroke="#1a1a1a" stroke-width="0.8"/>
<path d="M362.80,449.86 L365.20,449.86 L364.00,451.96 Z" fill="#151515" stroke="none" stroke-width="1"/>
<path d="M362.80,450.81 L365.20,450.81 L364.00,452.91 Z" fill="#151515" stroke="none" stroke-width="1"/>
<rect x="369.50" y="490.68" width="5.10" height="22.42" fill="#e9978b"/>
<line x1="372.05" y1="483.80" x2="372.05" y2="496.90" stroke="#1a1a1a" stroke-width="0.85"/>
<line x1="370.65" y1="483.80" x2="373.45" y2="483.80" stroke="#1a1a1a" stroke-width="0.8"/>
<path d="M370.85,489.53 L373.25,489.53 L372.05,491.63 Z" fill="#151515" stroke="none" stroke-width="1"/>
<path d="M370.85,491.57 L373.25,491.57 L372.05,493.67 Z" fill="#151515" stroke="none" stroke-width="1"/>
<rect x="378.00" y="510.07" width="5.20" height="3.03" fill="#e9978b"/>
<line x1="378.30" y1="510.07" x2="382.90" y2="510.07" stroke="#111" stroke-width="1.2"/>
<rect x="392.10" y="452.52" width="5.40" height="60.58" fill="#2a9fd8"/>
<line x1="392.40" y1="452.52" x2="397.20" y2="452.52" stroke="#111" stroke-width="1.2"/>
<rect x="400.20" y="461.60" width="5.40" height="51.50" fill="#2a9fd8"/>
<line x1="402.90" y1="456.70" x2="402.90" y2="464.80" stroke="#1a1a1a" stroke-width="0.85"/>
<line x1="401.50" y1="456.70" x2="404.30" y2="456.70" stroke="#1a1a1a" stroke-width="0.8"/>
<path d="M401.70,462.24 L404.10,462.24 L402.90,464.34 Z" fill="#151515" stroke="none" stroke-width="1"/>
<path d="M401.70,462.07 L404.10,462.07 L402.90,464.17 Z" fill="#151515" stroke="none" stroke-width="1"/>
<rect x="409.10" y="466.45" width="5.40" height="46.65" fill="#2a9fd8"/>
<line x1="409.40" y1="466.45" x2="414.20" y2="466.45" stroke="#111" stroke-width="1.2"/>
<rect x="423.10" y="452.52" width="5.40" height="60.58" fill="#b0d5f3"/>
<line x1="425.80" y1="445.20" x2="425.80" y2="459.40" stroke="#1a1a1a" stroke-width="0.85"/>
<line x1="424.40" y1="445.20" x2="427.20" y2="445.20" stroke="#1a1a1a" stroke-width="0.8"/>
<path d="M424.60,453.41 L427.00,453.41 L425.80,455.51 Z" fill="#151515" stroke="none" stroke-width="1"/>
<path d="M424.60,453.36 L427.00,453.36 L425.80,455.46 Z" fill="#151515" stroke="none" stroke-width="1"/>
<rect x="431.70" y="462.82" width="5.20" height="50.28" fill="#b0d5f3"/>
<line x1="432.00" y1="462.82" x2="436.60" y2="462.82" stroke="#111" stroke-width="1.2"/>
<rect x="439.80" y="465.24" width="5.40" height="47.86" fill="#b0d5f3"/>
<line x1="442.50" y1="463.50" x2="442.50" y2="467.50" stroke="#1a1a1a" stroke-width="0.85"/>
<line x1="441.10" y1="463.50" x2="443.90" y2="463.50" stroke="#1a1a1a" stroke-width="0.8"/>
<path d="M441.30,464.72 L443.70,464.72 L442.50,466.82 Z" fill="#151515" stroke="none" stroke-width="1"/>
<path d="M441.30,465.48 L443.70,465.48 L442.50,467.58 Z" fill="#151515" stroke="none" stroke-width="1"/>
<line x1="327.30" y1="513.40" x2="446.80" y2="513.40" stroke="#262626" stroke-width="1.0"/>
<line x1="332.50" y1="513.40" x2="332.50" y2="516.00" stroke="#262626" stroke-width="1.0"/>
<line x1="341.50" y1="513.40" x2="341.50" y2="516.00" stroke="#262626" stroke-width="1.0"/>
<line x1="349.55" y1="513.40" x2="349.55" y2="516.00" stroke="#262626" stroke-width="1.0"/>
<line x1="364.00" y1="513.40" x2="364.00" y2="516.00" stroke="#262626" stroke-width="1.0"/>
<line x1="372.05" y1="513.40" x2="372.05" y2="516.00" stroke="#262626" stroke-width="1.0"/>
<line x1="380.60" y1="513.40" x2="380.60" y2="516.00" stroke="#262626" stroke-width="1.0"/>
<line x1="394.80" y1="513.40" x2="394.80" y2="516.00" stroke="#262626" stroke-width="1.0"/>
<line x1="402.90" y1="513.40" x2="402.90" y2="516.00" stroke="#262626" stroke-width="1.0"/>
<line x1="411.80" y1="513.40" x2="411.80" y2="516.00" stroke="#262626" stroke-width="1.0"/>
<line x1="425.80" y1="513.40" x2="425.80" y2="516.00" stroke="#262626" stroke-width="1.0"/>
<line x1="434.30" y1="513.40" x2="434.30" y2="516.00" stroke="#262626" stroke-width="1.0"/>
<line x1="442.50" y1="513.40" x2="442.50" y2="516.00" stroke="#262626" stroke-width="1.0"/>
<text x="332.50" y="525.00" font-size="7.0" text-anchor="middle" fill="#2e2e2e">2</text>
<text x="341.50" y="525.00" font-size="7.0" text-anchor="middle" fill="#2e2e2e">7</text>
<text x="349.55" y="525.00" font-size="7.0" text-anchor="middle" fill="#2e2e2e">12</text>
<text x="364.00" y="525.00" font-size="7.0" text-anchor="middle" fill="#2e2e2e">2</text>
<text x="372.05" y="525.00" font-size="7.0" text-anchor="middle" fill="#2e2e2e">7</text>
<text x="380.60" y="525.00" font-size="7.0" text-anchor="middle" fill="#2e2e2e">12</text>
<text x="394.80" y="525.00" font-size="7.0" text-anchor="middle" fill="#2e2e2e">2</text>
<text x="402.90" y="525.00" font-size="7.0" text-anchor="middle" fill="#2e2e2e">7</text>
<text x="411.80" y="525.00" font-size="7.0" text-anchor="middle" fill="#2e2e2e">12</text>
<text x="425.80" y="525.00" font-size="7.0" text-anchor="middle" fill="#2e2e2e">2</text>
<text x="434.30" y="525.00" font-size="7.0" text-anchor="middle" fill="#2e2e2e">7</text>
<text x="442.50" y="525.00" font-size="7.0" text-anchor="middle" fill="#2e2e2e">12</text>
<text x="388.00" y="537.30" font-size="8.6" text-anchor="middle" fill="#2e2e2e" textLength="88.6" lengthAdjust="spacingAndGlyphs">Time after doxyxycline (days)</text>
<text x="356.80" y="429.20" font-size="8.0" text-anchor="middle" fill="#2e2e2e" textLength="25.3" lengthAdjust="spacingAndGlyphs">t(4;14)</text>
<line x1="328.60" y1="434.50" x2="384.60" y2="434.50" stroke="#222" stroke-width="1.0"/>
<text x="417.00" y="429.20" font-size="8.0" text-anchor="middle" fill="#2e2e2e" textLength="42" lengthAdjust="spacingAndGlyphs">non-t(4;14)</text>
<line x1="389.90" y1="434.50" x2="445.20" y2="434.50" stroke="#222" stroke-width="1.0"/>
<text x="293.80" y="475.00" font-size="8.2" text-anchor="middle" fill="#2e2e2e" textLength="33.7" lengthAdjust="spacingAndGlyphs" transform="rotate(-90 293.80 475.00)">% GFP cells</text>
<text x="305.30" y="475.40" font-size="8.2" text-anchor="middle" fill="#2e2e2e" textLength="54" lengthAdjust="spacingAndGlyphs" transform="rotate(-90 305.30 475.40)">(relative to day 2)</text>
<rect x="454.40" y="457.95" width="4.30" height="4.30" fill="#c4102e"/>
<text x="461.60" y="462.60" font-size="7.0" text-anchor="start" fill="#2e2e2e" textLength="32.4" lengthAdjust="spacingAndGlyphs">LP1-sgAK2</text>
<rect x="454.40" y="468.15" width="4.30" height="4.30" fill="#e9978b"/>
<text x="461.60" y="472.80" font-size="7.0" text-anchor="start" fill="#2e2e2e" textLength="35.1" lengthAdjust="spacingAndGlyphs">Jim3-sgAK2</text>
<rect x="454.40" y="478.35" width="4.30" height="4.30" fill="#2a9fd8"/>
<text x="461.60" y="483.00" font-size="7.0" text-anchor="start" fill="#2e2e2e" textLength="35.1" lengthAdjust="spacingAndGlyphs">L363-sgAK2</text>
<rect x="454.40" y="488.55" width="4.30" height="4.30" fill="#b0d5f3"/>
<text x="461.60" y="493.20" font-size="7.0" text-anchor="start" fill="#2e2e2e" textLength="51.2" lengthAdjust="spacingAndGlyphs">RPMI8226-sgAK2</text>
<text x="83.30" y="572.00" font-size="11.9" text-anchor="start" fill="#141414" font-weight="bold">L</text>
<text x="139.20" y="574.60" font-size="6.9" text-anchor="middle" fill="#2e2e2e" textLength="34" lengthAdjust="spacingAndGlyphs">Doxycycline</text>
<text x="139.20" y="582.80" font-size="6.9" text-anchor="middle" fill="#2e2e2e" textLength="28" lengthAdjust="spacingAndGlyphs">Chow Diet</text>
<rect x="136.20" y="586.40" width="4.00" height="1.80" fill="#f2c46a" stroke="#d8a040" stroke-width="0.3"/>
<rect x="133.00" y="591.10" width="4.00" height="1.80" fill="#f2c46a" stroke="#d8a040" stroke-width="0.3"/>
<rect x="140.40" y="591.10" width="4.00" height="1.80" fill="#f2c46a" stroke="#d8a040" stroke-width="0.3"/>
<path d="M138.3,655 C139,665 134,675 135.5,688 C136.2,694 134.5,698 134,701" fill="none" stroke="#e2aa9e" stroke-width="1.4"/>
<path d="M127.6,648.5 L125.6,656.4 L117.5,657.4" fill="none" stroke="#dca89c" stroke-width="1.8" stroke-linejoin="round" stroke-linecap="round"/>
<path d="M149.6,648.5 L152.0,656.4 L159.9,658.2" fill="none" stroke="#dca89c" stroke-width="1.8" stroke-linejoin="round" stroke-linecap="round"/>
<path d="M131.50,614.50 C130.67,613.28 127.00,612.92 125.00,612.20 C123.00,611.48 120.58,610.20 119.50,610.20 C118.42,610.20 117.75,611.30 118.50,612.20 C119.25,613.10 122.08,614.38 124.00,615.60 C125.92,616.82 128.75,619.68 130.00,619.50 C131.25,619.32 132.33,615.72 131.50,614.50 Z" fill="#ddd9d6" stroke="#b0a8a4" stroke-width="0.45"/>
<path d="M145.00,614.50 C145.83,613.28 149.50,612.92 151.50,612.20 C153.50,611.48 155.92,610.20 157.00,610.20 C158.08,610.20 158.75,611.30 158.00,612.20 C157.25,613.10 154.42,614.38 152.50,615.60 C150.58,616.82 147.75,619.68 146.50,619.50 C145.25,619.32 144.17,615.72 145.00,614.50 Z" fill="#ddd9d6" stroke="#b0a8a4" stroke-width="0.45"/>
<circle cx="117.60" cy="610.60" r="1.7" fill="#eab0a4" stroke="#d2958a" stroke-width="0.3"/>
<circle cx="159.20" cy="610.60" r="1.7" fill="#eab0a4" stroke="#d2958a" stroke-width="0.3"/>
<path d="M131.00,613.00 C129.45,613.92 129.47,615.67 129.00,617.50 C128.53,619.33 128.50,621.75 128.20,624.00 C127.90,626.25 127.77,628.92 127.20,631.00 C126.63,633.08 125.40,634.83 124.80,636.50 C124.20,638.17 123.63,639.50 123.60,641.00 C123.57,642.50 123.80,644.07 124.60,645.50 C125.40,646.93 126.92,648.28 128.40,649.60 C129.88,650.92 132.00,652.23 133.50,653.40 C135.00,654.57 136.07,656.57 137.40,656.60 C138.73,656.63 139.90,654.77 141.50,653.60 C143.10,652.43 145.32,650.95 147.00,649.60 C148.68,648.25 150.63,646.93 151.60,645.50 C152.57,644.07 152.77,642.50 152.80,641.00 C152.83,639.50 152.35,638.17 151.80,636.50 C151.25,634.83 150.05,633.08 149.50,631.00 C148.95,628.92 148.78,626.25 148.50,624.00 C148.22,621.75 148.28,619.33 147.80,617.50 C147.32,615.67 147.18,613.92 145.60,613.00 C144.02,612.08 140.73,612.00 138.30,612.00 C135.87,612.00 132.55,612.08 131.00,613.00 Z" fill="#ddd9d6" stroke="#b0a8a4" stroke-width="0.55"/>
<ellipse cx="138.3" cy="636" rx="8" ry="13" fill="#e6e3e1" opacity="0.7"/>
<ellipse cx="129.8" cy="610.2" rx="2.4" ry="2.9" transform="rotate(-30 129.8 610.2)" fill="#eab0a4" stroke="#d2958a" stroke-width="0.4"/>
<ellipse cx="146.8" cy="610.2" rx="2.4" ry="2.9" transform="rotate(30 146.8 610.2)" fill="#eab0a4" stroke="#d2958a" stroke-width="0.4"/>
<path d="M138.30,596.40 C137.63,596.40 136.95,597.58 136.30,598.60 C135.65,599.62 134.98,601.18 134.40,602.50 C133.82,603.82 133.20,605.25 132.80,606.50 C132.40,607.75 131.97,608.92 132.00,610.00 C132.03,611.08 132.43,612.23 133.00,613.00 C133.57,613.77 134.52,614.25 135.40,614.60 C136.28,614.95 137.33,615.10 138.30,615.10 C139.27,615.10 140.32,614.95 141.20,614.60 C142.08,614.25 143.03,613.77 143.60,613.00 C144.17,612.23 144.57,611.08 144.60,610.00 C144.63,608.92 144.20,607.75 143.80,606.50 C143.40,605.25 142.78,603.82 142.20,602.50 C141.62,601.18 140.95,599.62 140.30,598.60 C139.65,597.58 138.97,596.40 138.30,596.40 Z" fill="#e4e0de" stroke="#b0a8a4" stroke-width="0.5"/>
<ellipse cx="134.9" cy="602.8" rx="0.6" ry="0.9" fill="#2a2a2a"/>
<ellipse cx="141.7" cy="602.8" rx="0.6" ry="0.9" fill="#2a2a2a"/>
<g transform="translate(100.2,663.8) rotate(-36.99)"><line x1="0" y1="-2.3" x2="0" y2="2.3" stroke="#555" stroke-width="0.9"/><line x1="0" y1="0" x2="6.1" y2="0" stroke="#555" stroke-width="0.8"/><line x1="6.1" y1="-2.4" x2="6.1" y2="2.4" stroke="#555" stroke-width="0.9"/><rect x="6.1" y="-2.0" width="15.6" height="4.0" fill="#f4f4f4" stroke="#555" stroke-width="0.8"/><line x1="8.4" y1="-1.8" x2="8.4" y2="0" stroke="#555" stroke-width="0.4"/><line x1="11.2" y1="-1.8" x2="11.2" y2="0" stroke="#555" stroke-width="0.4"/><line x1="14.0" y1="-1.8" x2="14.0" y2="0" stroke="#555" stroke-width="0.4"/><line x1="21.8" y1="0" x2="27.9" y2="0" stroke="#555" stroke-width="0.6"/></g>
<g transform="translate(176.6,663.6) rotate(-140.76)"><line x1="0" y1="-2.3" x2="0" y2="2.3" stroke="#d8691e" stroke-width="0.9"/><line x1="0" y1="0" x2="5.4" y2="0" stroke="#d8691e" stroke-width="0.8"/><line x1="5.4" y1="-2.4" x2="5.4" y2="2.4" stroke="#d8691e" stroke-width="0.9"/><rect x="5.4" y="-2.0" width="13.8" height="4.0" fill="#f5a25a" stroke="#d8691e" stroke-width="0.8"/><line x1="7.4" y1="-1.8" x2="7.4" y2="0" stroke="#d8691e" stroke-width="0.4"/><line x1="9.9" y1="-1.8" x2="9.9" y2="0" stroke="#d8691e" stroke-width="0.4"/><line x1="12.3" y1="-1.8" x2="12.3" y2="0" stroke="#d8691e" stroke-width="0.4"/><line x1="19.2" y1="0" x2="24.7" y2="0" stroke="#d8691e" stroke-width="0.6"/></g>
<text x="100.80" y="675.20" font-size="6.9" text-anchor="middle" fill="#2e2e2e" textLength="34" lengthAdjust="spacingAndGlyphs">Doxycycline</text>
<text x="100.80" y="682.50" font-size="6.9" text-anchor="middle" fill="#2e2e2e" textLength="25.5" lengthAdjust="spacingAndGlyphs">Inducible</text>
<text x="100.80" y="689.80" font-size="6.9" text-anchor="middle" fill="#2e2e2e" textLength="13.5" lengthAdjust="spacingAndGlyphs">shSc</text>
<text x="174.70" y="675.20" font-size="6.9" text-anchor="middle" fill="#2e2e2e" textLength="34" lengthAdjust="spacingAndGlyphs">Doxycycline</text>
<text x="174.70" y="682.50" font-size="6.9" text-anchor="middle" fill="#2e2e2e" textLength="25.5" lengthAdjust="spacingAndGlyphs">Inducible</text>
<text x="174.70" y="689.80" font-size="6.9" text-anchor="middle" fill="#2e2e2e" textLength="17" lengthAdjust="spacingAndGlyphs">shAK2</text>
<text x="209.50" y="575.40" font-size="11.9" text-anchor="start" fill="#141414" font-weight="bold">M</text>
<text x="210.00" y="590.00" font-size="8.9" text-anchor="start" fill="#2e2e2e" textLength="72.3" lengthAdjust="spacingAndGlyphs">KMS11 Xenografts</text>
<rect x="218.50" y="594.60" width="54.60" height="27.70" fill="#dedcd8" stroke="#7a7774" stroke-width="0.7"/>
<g transform="rotate(10 228.4 601.9)"><ellipse cx="228.4" cy="601.9" rx="6.1" ry="4.2" fill="#9a4a48"/><ellipse cx="227.18" cy="601.27" rx="3.66" ry="2.31" fill="#c08080" opacity="0.55"/></g>
<g transform="rotate(0 247.3 602.0)"><ellipse cx="247.3" cy="602.0" rx="5.8" ry="3.6" fill="#b0283a"/><ellipse cx="246.14" cy="601.46" rx="3.48" ry="1.98" fill="#d25868" opacity="0.55"/></g>
<g transform="rotate(0 266.9 602.0)"><ellipse cx="266.9" cy="602.0" rx="5.4" ry="3.9" fill="#a23a3e"/><ellipse cx="265.82" cy="601.41" rx="3.24" ry="2.15" fill="#c86a70" opacity="0.55"/></g>
<g transform="rotate(0 226.2 616.9)"><ellipse cx="226.2" cy="616.9" rx="2.4" ry="2.2" fill="#a06050"/><ellipse cx="225.72" cy="616.57" rx="1.44" ry="1.21" fill="#c89080" opacity="0.55"/></g>
<g transform="rotate(0 246.1 616.2)"><ellipse cx="246.1" cy="616.2" rx="3.2" ry="3.9" fill="#a41a30"/><ellipse cx="245.46" cy="615.62" rx="1.92" ry="2.15" fill="#c84858" opacity="0.55"/></g>
<g transform="rotate(0 266.5 615.8)"><ellipse cx="266.5" cy="615.8" rx="3.6" ry="2.8" fill="#a82035"/><ellipse cx="265.78" cy="615.38" rx="2.16" ry="1.54" fill="#c84a58" opacity="0.55"/></g>
<text x="274.60" y="603.80" font-size="7.0" text-anchor="start" fill="#2e2e2e" textLength="14" lengthAdjust="spacingAndGlyphs">shSc</text>
<text x="274.60" y="617.80" font-size="7.0" text-anchor="start" fill="#2e2e2e" textLength="18" lengthAdjust="spacingAndGlyphs">shAK2</text>
<line x1="247.30" y1="625.00" x2="247.30" y2="690.70" stroke="#262626" stroke-width="1.0"/>
<line x1="244.30" y1="690.20" x2="247.30" y2="690.20" stroke="#262626" stroke-width="1.0"/>
<text x="240.70" y="692.61" font-size="6.7" text-anchor="end" fill="#2e2e2e">0</text>
<line x1="244.30" y1="669.30" x2="247.30" y2="669.30" stroke="#262626" stroke-width="1.0"/>
<text x="240.70" y="671.71" font-size="6.7" text-anchor="end" fill="#2e2e2e">500</text>
<line x1="244.30" y1="648.40" x2="247.30" y2="648.40" stroke="#262626" stroke-width="1.0"/>
<text x="240.70" y="650.81" font-size="6.7" text-anchor="end" fill="#2e2e2e">1000</text>
<line x1="244.30" y1="627.50" x2="247.30" y2="627.50" stroke="#262626" stroke-width="1.0"/>
<text x="240.70" y="629.91" font-size="6.7" text-anchor="end" fill="#2e2e2e">1500</text>
<rect x="252.90" y="652.16" width="10.20" height="38.04" fill="#126a50"/>
<rect x="272.80" y="683.51" width="10.20" height="6.69" fill="#d4882a"/>
<rect x="274.50" y="684.00" width="6.80" height="4.00" fill="#b86a1a" opacity="0.6"/>
<line x1="258.00" y1="645.80" x2="258.00" y2="657.00" stroke="#1a1a1a" stroke-width="0.85"/>
<line x1="256.30" y1="645.80" x2="259.70" y2="645.80" stroke="#1a1a1a" stroke-width="0.8"/>
<line x1="277.90" y1="678.40" x2="277.90" y2="688.00" stroke="#1a1a1a" stroke-width="0.85"/>
<line x1="276.20" y1="678.40" x2="279.60" y2="678.40" stroke="#1a1a1a" stroke-width="0.8"/>
<path d="M256.80,647.50 L259.20,647.50 L258.00,649.60 Z" fill="#151515" stroke="none" stroke-width="1"/>
<path d="M256.80,651.00 L259.20,651.00 L258.00,653.10 Z" fill="#151515" stroke="none" stroke-width="1"/>
<path d="M256.80,653.00 L259.20,653.00 L258.00,655.10 Z" fill="#151515" stroke="none" stroke-width="1"/>
<path d="M276.70,680.50 L279.10,680.50 L277.90,682.60 Z" fill="#151515" stroke="none" stroke-width="1"/>
<path d="M276.70,683.50 L279.10,683.50 L277.90,685.60 Z" fill="#151515" stroke="none" stroke-width="1"/>
<path d="M276.70,685.50 L279.10,685.50 L277.90,687.60 Z" fill="#151515" stroke="none" stroke-width="1"/>
<line x1="247.30" y1="690.40" x2="290.00" y2="690.40" stroke="#262626" stroke-width="1.0"/>
<line x1="258.00" y1="690.40" x2="258.00" y2="693.00" stroke="#262626" stroke-width="1.0"/>
<line x1="277.90" y1="690.40" x2="277.90" y2="693.00" stroke="#262626" stroke-width="1.0"/>
<polyline points="257.40,643.00 257.40,640.20 278.20,640.20 278.20,676.70" fill="none" stroke="#555" stroke-width="0.7" stroke-linejoin="round"/>
<text x="256.30" y="638.10" font-size="7.0" text-anchor="start" fill="#2e2e2e" textLength="24.7" lengthAdjust="spacingAndGlyphs"><tspan font-style="italic">P</tspan> &lt; .002</text>
<text x="258.20" y="702.60" font-size="6.9" text-anchor="middle" fill="#2e2e2e" textLength="12.9" lengthAdjust="spacingAndGlyphs">shSc</text>
<text x="277.80" y="702.60" font-size="6.9" text-anchor="middle" fill="#2e2e2e" textLength="16.6" lengthAdjust="spacingAndGlyphs">shAk2</text>
<text x="221.50" y="657.70" font-size="8.2" text-anchor="middle" fill="#2e2e2e" textLength="64" lengthAdjust="spacingAndGlyphs" transform="rotate(-90 221.50 657.70)">Tumor volume (mm<tspan font-size="5" dy="-2.8">3</tspan><tspan dy="2.8">)</tspan></text>
<text x="311.30" y="573.00" font-size="11.9" text-anchor="start" fill="#141414" font-weight="bold">N</text>
<text x="374.00" y="602.20" font-size="8.9" text-anchor="middle" fill="#2e2e2e" textLength="59.3" lengthAdjust="spacingAndGlyphs">LP1 Xenografts</text>
<rect x="333.10" y="606.20" width="81.30" height="29.60" fill="#e3e1de" stroke="#6a6765" stroke-width="0.7"/>
<g transform="rotate(0 342.8 616.6)"><ellipse cx="342.8" cy="616.6" rx="7.4" ry="3.3" fill="#8e2834"/><ellipse cx="341.32" cy="616.11" rx="4.44" ry="1.81" fill="#c4606a" opacity="0.55"/></g>
<g transform="rotate(0 356.5 616.6)"><ellipse cx="356.5" cy="616.6" rx="4.3" ry="3.1" fill="#8e2834"/><ellipse cx="355.64" cy="616.13" rx="2.58" ry="1.71" fill="#c4606a" opacity="0.55"/></g>
<g transform="rotate(0 371.3 616.6)"><ellipse cx="371.3" cy="616.6" rx="4.2" ry="3.2" fill="#8e2834"/><ellipse cx="370.46" cy="616.12" rx="2.52" ry="1.76" fill="#c4606a" opacity="0.55"/></g>
<g transform="rotate(0 383 616.6)"><ellipse cx="383" cy="616.6" rx="4.2" ry="3.1" fill="#8e2834"/><ellipse cx="382.16" cy="616.13" rx="2.52" ry="1.71" fill="#c4606a" opacity="0.55"/></g>
<g transform="rotate(0 394.5 616.6)"><ellipse cx="394.5" cy="616.6" rx="4.3" ry="3.9" fill="#8e2834"/><ellipse cx="393.64" cy="616.01" rx="2.58" ry="2.15" fill="#c4606a" opacity="0.55"/></g>
<g transform="rotate(0 405.2 616.6)"><ellipse cx="405.2" cy="616.6" rx="3" ry="2" fill="#8e2834"/><ellipse cx="404.60" cy="616.30" rx="1.80" ry="1.10" fill="#c4606a" opacity="0.55"/></g>
<ellipse cx="342.5" cy="628.5" rx="5" ry="3" fill="#e4d8d6"/>
<ellipse cx="356.5" cy="628.5" rx="5" ry="3" fill="#e4d8d6"/>
<text x="418.00" y="619.40" font-size="7.0" text-anchor="start" fill="#2e2e2e" textLength="14" lengthAdjust="spacingAndGlyphs">shSc</text>
<text x="418.00" y="632.20" font-size="7.0" text-anchor="start" fill="#2e2e2e" textLength="18" lengthAdjust="spacingAndGlyphs">shAK2</text>
<text x="373.40" y="649.60" font-size="8.8" text-anchor="middle" fill="#2e2e2e" textLength="18.5" lengthAdjust="spacingAndGlyphs">shSc</text>
<line x1="346.40" y1="651.80" x2="400.40" y2="651.80" stroke="#9a9a9a" stroke-width="1.3"/>
<text x="347.90" y="662.20" font-size="7.0" text-anchor="middle" fill="#2e2e2e" textLength="8" lengthAdjust="spacingAndGlyphs">T1</text>
<text x="359.80" y="662.20" font-size="7.0" text-anchor="middle" fill="#2e2e2e" textLength="8" lengthAdjust="spacingAndGlyphs">T2</text>
<text x="370.00" y="662.20" font-size="7.0" text-anchor="middle" fill="#2e2e2e" textLength="8" lengthAdjust="spacingAndGlyphs">T3</text>
<text x="380.20" y="662.20" font-size="7.0" text-anchor="middle" fill="#2e2e2e" textLength="8" lengthAdjust="spacingAndGlyphs">T4</text>
<text x="390.20" y="662.20" font-size="7.0" text-anchor="middle" fill="#2e2e2e" textLength="8" lengthAdjust="spacingAndGlyphs">T5</text>
<text x="400.20" y="662.20" font-size="7.0" text-anchor="middle" fill="#2e2e2e" textLength="8" lengthAdjust="spacingAndGlyphs">T6</text>
<text x="408.80" y="661.00" font-size="6.8" text-anchor="start" fill="#2e2e2e" textLength="19" lengthAdjust="spacingAndGlyphs" transform="rotate(-50 408.80 661.00)">shAK2</text>
<rect x="340.20" y="664.40" width="71.60" height="10.60" fill="#ececec" stroke="#3a3a3a" stroke-width="0.7"/>
<rect x="340.20" y="678.60" width="71.60" height="11.20" fill="#ececec" stroke="#3a3a3a" stroke-width="0.7"/>
<text x="337.70" y="672.20" font-size="7.0" text-anchor="end" fill="#2e2e2e" textLength="10.7" lengthAdjust="spacingAndGlyphs">AK2</text>
<text x="337.70" y="687.30" font-size="7.0" text-anchor="end" fill="#2e2e2e" textLength="29.7" lengthAdjust="spacingAndGlyphs">α-Tubulin</text>
<ellipse cx="346" cy="670.1" rx="4.75" ry="1.90" fill="#0d0d0d" opacity="0.95"/>
<ellipse cx="357" cy="670.1" rx="4.10" ry="1.50" fill="#0d0d0d" opacity="0.82"/>
<ellipse cx="367.7" cy="670.1" rx="4.00" ry="1.40" fill="#0d0d0d" opacity="0.75"/>
<ellipse cx="378.3" cy="670.1" rx="4.20" ry="1.70" fill="#0d0d0d" opacity="0.95"/>
<ellipse cx="388.5" cy="670.1" rx="4.00" ry="1.55" fill="#0d0d0d" opacity="0.88"/>
<ellipse cx="398.8" cy="670.1" rx="3.80" ry="1.50" fill="#0d0d0d" opacity="0.8"/>
<ellipse cx="407" cy="670.1" rx="1.50" ry="0.40" fill="#0d0d0d" opacity="0.1"/>
<ellipse cx="346" cy="684.5" rx="4.75" ry="1.75" fill="#0d0d0d" opacity="0.95"/>
<ellipse cx="357" cy="684.5" rx="4.00" ry="1.75" fill="#0d0d0d" opacity="0.9"/>
<ellipse cx="367.7" cy="684.5" rx="4.00" ry="1.75" fill="#0d0d0d" opacity="0.9"/>
<ellipse cx="378.3" cy="684.5" rx="4.25" ry="1.75" fill="#0d0d0d" opacity="0.95"/>
<ellipse cx="388.5" cy="684.5" rx="4.25" ry="1.75" fill="#0d0d0d" opacity="0.95"/>
<ellipse cx="398.8" cy="684.5" rx="4.25" ry="1.75" fill="#0d0d0d" opacity="0.92"/>
<ellipse cx="407" cy="684.5" rx="4.25" ry="1.75" fill="#0d0d0d" opacity="0.97"/>
<rect x="0.5" y="0.5" width="519" height="710" fill="none" stroke="#585858" stroke-width="1"/>
</svg></body></html>
